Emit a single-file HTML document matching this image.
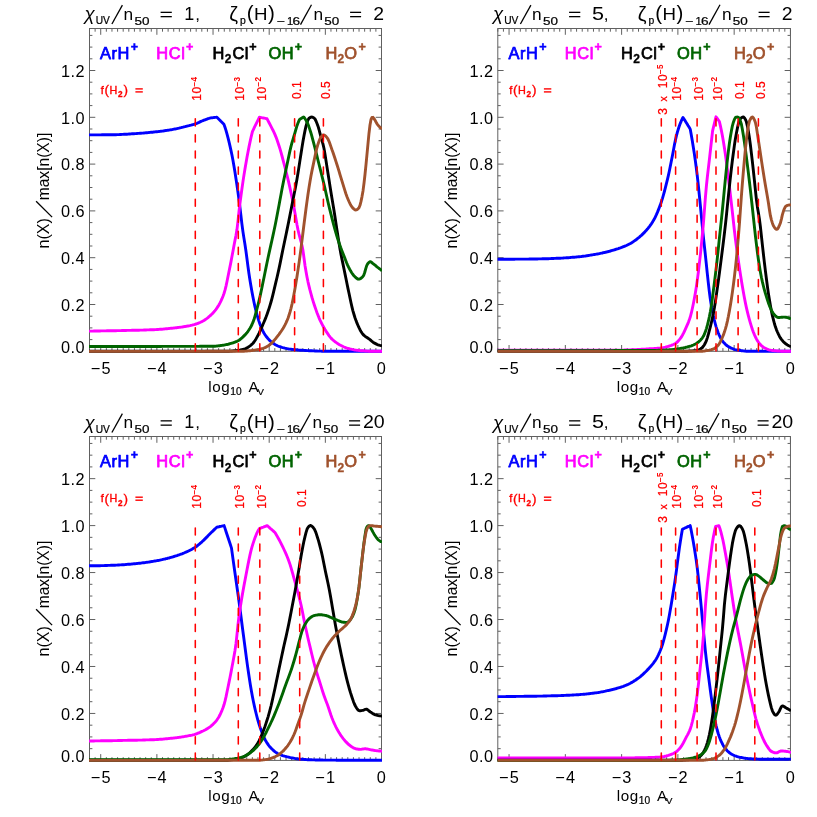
<!DOCTYPE html>
<html><head><meta charset="utf-8"><title>chart</title>
<style>html,body{margin:0;padding:0;background:#fff}svg{display:block;will-change:transform}text{font-family:"Liberation Sans", sans-serif;}</style></head><body>
<svg width="817" height="817" viewBox="0 0 817 817">
<rect width="817" height="817" fill="#fff"/>
<g id="panel1">
<g stroke="#000" stroke-width="1" fill="none" shape-rendering="auto" opacity="0.62">
<rect x="89.50" y="28.50" width="292.00" height="322.80"/>
<path d="M89.50 351.30v-3.20M89.50 28.50v3.20M95.12 351.30v-3.20M95.12 28.50v3.20M100.73 351.30v-6.30M100.73 28.50v6.30M106.35 351.30v-3.20M106.35 28.50v3.20M111.96 351.30v-3.20M111.96 28.50v3.20M117.58 351.30v-3.20M117.58 28.50v3.20M123.19 351.30v-3.20M123.19 28.50v3.20M128.81 351.30v-3.20M128.81 28.50v3.20M134.42 351.30v-3.20M134.42 28.50v3.20M140.04 351.30v-3.20M140.04 28.50v3.20M145.65 351.30v-3.20M145.65 28.50v3.20M151.27 351.30v-3.20M151.27 28.50v3.20M156.88 351.30v-6.30M156.88 28.50v6.30M162.50 351.30v-3.20M162.50 28.50v3.20M168.12 351.30v-3.20M168.12 28.50v3.20M173.73 351.30v-3.20M173.73 28.50v3.20M179.35 351.30v-3.20M179.35 28.50v3.20M184.96 351.30v-3.20M184.96 28.50v3.20M190.58 351.30v-3.20M190.58 28.50v3.20M196.19 351.30v-3.20M196.19 28.50v3.20M201.81 351.30v-3.20M201.81 28.50v3.20M207.42 351.30v-3.20M207.42 28.50v3.20M213.04 351.30v-6.30M213.04 28.50v6.30M218.65 351.30v-3.20M218.65 28.50v3.20M224.27 351.30v-3.20M224.27 28.50v3.20M229.88 351.30v-3.20M229.88 28.50v3.20M235.50 351.30v-3.20M235.50 28.50v3.20M241.12 351.30v-3.20M241.12 28.50v3.20M246.73 351.30v-3.20M246.73 28.50v3.20M252.35 351.30v-3.20M252.35 28.50v3.20M257.96 351.30v-3.20M257.96 28.50v3.20M263.58 351.30v-3.20M263.58 28.50v3.20M269.19 351.30v-6.30M269.19 28.50v6.30M274.81 351.30v-3.20M274.81 28.50v3.20M280.42 351.30v-3.20M280.42 28.50v3.20M286.04 351.30v-3.20M286.04 28.50v3.20M291.65 351.30v-3.20M291.65 28.50v3.20M297.27 351.30v-3.20M297.27 28.50v3.20M302.88 351.30v-3.20M302.88 28.50v3.20M308.50 351.30v-3.20M308.50 28.50v3.20M314.12 351.30v-3.20M314.12 28.50v3.20M319.73 351.30v-3.20M319.73 28.50v3.20M325.35 351.30v-6.30M325.35 28.50v6.30M330.96 351.30v-3.20M330.96 28.50v3.20M336.58 351.30v-3.20M336.58 28.50v3.20M342.19 351.30v-3.20M342.19 28.50v3.20M347.81 351.30v-3.20M347.81 28.50v3.20M353.42 351.30v-3.20M353.42 28.50v3.20M359.04 351.30v-3.20M359.04 28.50v3.20M364.65 351.30v-3.20M364.65 28.50v3.20M370.27 351.30v-3.20M370.27 28.50v3.20M375.88 351.30v-3.20M375.88 28.50v3.20M381.50 351.30v-6.30M381.50 28.50v6.30M89.50 351.30h5.80M381.50 351.30h-5.80M89.50 339.60h2.90M381.50 339.60h-2.90M89.50 327.90h2.90M381.50 327.90h-2.90M89.50 316.20h2.90M381.50 316.20h-2.90M89.50 304.50h5.80M381.50 304.50h-5.80M89.50 292.80h2.90M381.50 292.80h-2.90M89.50 281.10h2.90M381.50 281.10h-2.90M89.50 269.40h2.90M381.50 269.40h-2.90M89.50 257.70h5.80M381.50 257.70h-5.80M89.50 246.00h2.90M381.50 246.00h-2.90M89.50 234.30h2.90M381.50 234.30h-2.90M89.50 222.60h2.90M381.50 222.60h-2.90M89.50 210.90h5.80M381.50 210.90h-5.80M89.50 199.20h2.90M381.50 199.20h-2.90M89.50 187.50h2.90M381.50 187.50h-2.90M89.50 175.80h2.90M381.50 175.80h-2.90M89.50 164.10h5.80M381.50 164.10h-5.80M89.50 152.40h2.90M381.50 152.40h-2.90M89.50 140.70h2.90M381.50 140.70h-2.90M89.50 129.00h2.90M381.50 129.00h-2.90M89.50 117.30h5.80M381.50 117.30h-5.80M89.50 105.60h2.90M381.50 105.60h-2.90M89.50 93.90h2.90M381.50 93.90h-2.90M89.50 82.20h2.90M381.50 82.20h-2.90M89.50 70.50h5.80M381.50 70.50h-5.80M89.50 58.80h2.90M381.50 58.80h-2.90M89.50 47.10h2.90M381.50 47.10h-2.90M89.50 35.40h2.90M381.50 35.40h-2.90"/>
</g>
<clipPath id="clip1"><rect x="89.00" y="28.50" width="293.00" height="324.80"/></clipPath>
<g clip-path="url(#clip1)" fill="none" stroke-width="2.9" stroke-linejoin="round" stroke-linecap="butt">
<polyline stroke="#0000ff" points="89.0,134.9 90.0,134.9 91.0,134.9 92.0,134.9 93.0,134.9 94.0,134.9 95.0,134.9 96.0,134.9 97.0,134.9 98.0,134.9 99.0,134.9 100.0,134.9 101.0,134.9 102.0,134.8 103.0,134.8 104.0,134.8 105.0,134.8 106.0,134.8 107.0,134.8 108.0,134.8 109.0,134.8 110.0,134.8 111.0,134.7 112.0,134.7 113.0,134.7 114.0,134.7 115.0,134.7 116.0,134.7 117.0,134.6 118.0,134.6 119.0,134.6 120.0,134.5 121.0,134.5 122.0,134.4 123.0,134.4 124.0,134.3 125.0,134.3 126.0,134.2 127.0,134.2 128.0,134.1 129.0,134.0 130.0,134.0 131.0,133.9 132.0,133.8 133.0,133.8 134.0,133.7 135.0,133.6 136.0,133.6 137.0,133.5 138.0,133.4 139.0,133.4 140.0,133.3 141.0,133.2 142.0,133.1 143.0,133.1 144.0,133.0 145.0,132.9 146.0,132.8 147.0,132.7 148.0,132.6 149.0,132.5 150.0,132.4 151.0,132.3 152.0,132.3 153.0,132.2 154.0,132.0 155.0,131.9 156.0,131.8 157.0,131.7 158.0,131.6 159.0,131.5 160.0,131.4 161.0,131.2 162.0,131.1 163.0,131.0 164.0,130.8 165.0,130.7 166.0,130.5 167.0,130.4 168.0,130.2 169.0,130.1 170.0,129.9 171.0,129.8 172.0,129.6 173.0,129.4 174.0,129.2 175.0,129.0 176.0,128.8 177.0,128.6 178.0,128.4 179.0,128.2 180.0,127.9 181.0,127.7 182.0,127.4 183.0,127.2 184.0,126.9 185.0,126.7 186.0,126.4 187.0,126.1 188.0,125.9 189.0,125.7 190.0,125.4 191.0,125.2 192.0,124.9 193.0,124.6 194.0,124.3 195.0,124.0 196.0,123.7 197.0,123.3 198.0,122.8 199.0,122.4 200.0,121.9 201.0,121.4 202.0,121.0 203.0,120.6 204.0,120.2 205.0,119.8 206.0,119.5 207.0,119.1 208.0,118.7 209.0,118.4 210.0,118.0 210.1,118.0 211.1,117.9 212.1,117.8 213.1,117.6 214.1,117.5 215.1,117.4 216.1,117.3 216.9,117.2 217.9,118.2 218.9,119.2 219.9,120.2 220.9,121.3 221.9,122.3 222.9,123.3 223.9,124.3 224.9,127.0 225.9,130.1 226.9,133.6 227.9,137.3 228.9,141.3 229.9,145.6 230.9,150.1 231.9,154.8 232.9,160.0 233.9,165.7 234.9,171.8 235.9,178.2 236.9,184.9 237.9,191.8 238.9,199.0 239.9,206.9 240.9,215.5 241.9,223.9 242.9,231.4 243.9,237.9 244.9,244.1 245.9,250.7 246.9,258.2 247.9,266.0 248.9,273.2 249.9,279.7 250.9,285.8 251.9,291.5 252.9,296.8 253.9,301.7 254.9,306.4 255.9,310.6 256.9,314.4 257.9,317.9 258.9,321.1 259.9,324.0 260.9,326.6 261.9,328.9 262.9,331.0 263.9,333.0 264.9,334.6 265.9,336.0 266.9,337.3 267.9,338.5 268.9,339.6 269.9,340.6 270.9,341.5 271.9,342.3 272.9,343.0 273.9,343.7 274.9,344.4 275.9,345.0 276.9,345.5 277.9,346.0 278.9,346.4 279.9,346.7 280.9,347.0 281.9,347.4 282.9,347.7 283.9,347.9 284.9,348.2 285.9,348.4 286.9,348.6 287.9,348.8 288.9,349.0 289.9,349.1 290.9,349.2 291.9,349.4 292.9,349.5 293.9,349.6 294.9,349.7 295.9,349.8 296.9,349.9 297.9,350.0 298.9,350.1 299.9,350.2 300.9,350.2 301.9,350.3 302.9,350.4 303.9,350.4 304.9,350.5 305.9,350.5 306.9,350.6 307.9,350.6 308.9,350.7 309.9,350.7 310.9,350.8 311.9,350.8 312.9,350.9 313.9,350.9 314.9,351.0 315.9,351.0 316.9,351.0 317.9,351.1 318.9,351.1 319.9,351.1 320.9,351.1 321.9,351.2 322.9,351.2 323.9,351.2 324.9,351.2 325.9,351.2 326.9,351.2 327.9,351.2 328.9,351.2 329.9,351.2 330.9,351.2 331.9,351.2 332.9,351.2 333.9,351.2 334.9,351.2 335.9,351.2 336.9,351.2 337.9,351.2 338.9,351.2 339.9,351.2 340.9,351.3 341.9,351.3 342.9,351.3 343.9,351.3 344.9,351.3 345.9,351.3 346.9,351.3 347.9,351.3 348.9,351.3 349.9,351.3 350.9,351.3 351.9,351.3 352.9,351.3 353.9,351.3 354.9,351.3 355.9,351.3 356.9,351.3 357.9,351.3 358.9,351.3 359.9,351.3 360.9,351.3 361.9,351.3 362.9,351.3 363.9,351.3 364.9,351.3 365.9,351.3 366.9,351.3 367.9,351.3 368.9,351.3 369.9,351.3 370.9,351.3 371.9,351.3 372.9,351.3 373.9,351.3 374.9,351.3 375.9,351.3 376.9,351.3 377.9,351.3 378.9,351.3 379.9,351.3 380.9,351.3 381.9,351.3 382.0,351.3"/>
<polyline stroke="#ff00ff" points="89.0,331.1 90.0,331.1 91.0,331.1 92.0,331.1 93.0,331.1 94.0,331.0 95.0,331.0 96.0,331.0 97.0,331.0 98.0,331.0 99.0,331.0 100.0,331.0 101.0,330.9 102.0,330.9 103.0,330.9 104.0,330.9 105.0,330.9 106.0,330.9 107.0,330.8 108.0,330.8 109.0,330.8 110.0,330.8 111.0,330.8 112.0,330.7 113.0,330.7 114.0,330.7 115.0,330.7 116.0,330.7 117.0,330.6 118.0,330.6 119.0,330.6 120.0,330.6 121.0,330.6 122.0,330.5 123.0,330.5 124.0,330.5 125.0,330.5 126.0,330.5 127.0,330.4 128.0,330.4 129.0,330.4 130.0,330.4 131.0,330.4 132.0,330.3 133.0,330.3 134.0,330.3 135.0,330.3 136.0,330.2 137.0,330.2 138.0,330.2 139.0,330.2 140.0,330.1 141.0,330.1 142.0,330.1 143.0,330.1 144.0,330.0 145.0,330.0 146.0,330.0 147.0,329.9 148.0,329.9 149.0,329.9 150.0,329.8 151.0,329.8 152.0,329.8 153.0,329.7 154.0,329.7 155.0,329.6 156.0,329.6 157.0,329.5 158.0,329.5 159.0,329.4 160.0,329.3 161.0,329.2 162.0,329.2 163.0,329.1 164.0,329.0 165.0,328.9 166.0,328.8 167.0,328.7 168.0,328.6 169.0,328.5 170.0,328.4 171.0,328.3 172.0,328.2 173.0,328.1 174.0,328.0 175.0,327.9 176.0,327.8 177.0,327.7 178.0,327.5 179.0,327.4 180.0,327.3 181.0,327.1 182.0,327.0 183.0,326.8 184.0,326.7 185.0,326.5 186.0,326.3 187.0,326.2 188.0,326.0 189.0,325.8 190.0,325.6 191.0,325.3 192.0,325.1 193.0,324.8 194.0,324.6 195.0,324.3 196.0,324.0 197.0,323.7 198.0,323.3 199.0,322.9 200.0,322.5 201.0,322.0 202.0,321.6 203.0,321.0 204.0,320.5 205.0,319.8 206.0,319.1 207.0,318.4 208.0,317.6 209.0,316.7 210.0,315.9 211.0,314.9 212.0,314.0 213.0,312.9 214.0,311.8 215.0,310.6 216.0,309.3 217.0,307.9 218.0,306.4 219.0,304.7 220.0,302.9 221.0,300.9 222.0,298.7 223.0,296.2 224.0,293.5 225.0,290.2 226.0,286.1 227.0,281.5 228.0,276.5 229.0,271.5 230.0,266.6 231.0,261.6 232.0,256.3 233.0,250.9 234.0,245.5 235.0,240.3 236.0,235.3 237.0,229.3 238.0,220.9 239.0,211.4 240.0,203.1 241.0,195.5 242.0,188.3 243.0,181.4 244.0,174.9 245.0,168.7 246.0,162.9 247.0,157.3 248.0,152.0 249.0,146.9 250.0,142.1 251.0,137.5 252.0,133.3 252.5,131.3 253.5,129.3 254.5,127.2 255.5,125.2 256.5,123.1 257.5,121.1 258.5,119.0 259.4,117.2 260.4,117.4 261.4,117.6 262.4,117.8 263.4,118.0 264.4,118.2 265.4,118.4 266.4,118.7 267.1,118.8 268.1,120.8 269.1,122.7 270.1,124.7 271.1,126.6 272.1,128.6 273.1,130.5 274.0,132.3 275.0,134.6 276.0,137.1 277.0,139.8 278.0,142.7 279.0,145.7 280.0,148.9 281.0,152.4 282.0,156.0 283.0,159.8 284.0,163.7 285.0,167.5 286.0,171.4 287.0,175.3 288.0,179.4 289.0,183.7 290.0,188.1 291.0,192.7 292.0,197.5 293.0,202.4 294.0,207.6 295.0,213.2 296.0,219.0 297.0,224.8 298.0,229.9 299.0,234.2 300.0,237.9 301.0,241.5 302.0,245.6 303.0,250.6 304.0,258.0 305.0,265.5 306.0,271.5 307.0,276.9 308.0,281.8 309.0,286.1 310.0,290.2 311.0,293.9 312.0,297.5 313.0,300.8 314.0,304.0 315.0,307.0 316.0,309.9 317.0,312.7 318.0,315.3 319.0,317.8 320.0,320.1 321.0,322.2 322.0,324.2 323.0,326.1 324.0,327.8 325.0,329.5 326.0,331.1 327.0,332.6 328.0,334.1 329.0,335.6 330.0,336.9 331.0,338.1 332.0,339.1 333.0,340.0 334.0,340.9 335.0,341.7 336.0,342.4 337.0,343.1 338.0,343.8 339.0,344.4 340.0,345.0 341.0,345.5 342.0,346.0 343.0,346.5 344.0,347.0 345.0,347.4 346.0,347.8 347.0,348.2 348.0,348.4 349.0,348.7 350.0,349.0 351.0,349.2 352.0,349.4 353.0,349.6 354.0,349.8 355.0,350.0 356.0,350.1 357.0,350.3 358.0,350.4 359.0,350.5 360.0,350.6 361.0,350.7 362.0,350.7 363.0,350.8 364.0,350.9 365.0,351.0 366.0,351.0 367.0,351.1 368.0,351.1 369.0,351.2 370.0,351.2 371.0,351.2 372.0,351.2 373.0,351.2 374.0,351.2 375.0,351.3 376.0,351.3 377.0,351.3 378.0,351.3 379.0,351.3 380.0,351.3 381.0,351.3 382.0,351.3"/>
<polyline stroke="#000000" points="89.0,351.3 90.0,351.3 91.0,351.3 92.0,351.3 93.0,351.3 94.0,351.3 95.0,351.3 96.0,351.3 97.0,351.3 98.0,351.3 99.0,351.3 100.0,351.3 101.0,351.3 102.0,351.3 103.0,351.3 104.0,351.3 105.0,351.3 106.0,351.3 107.0,351.3 108.0,351.3 109.0,351.3 110.0,351.3 111.0,351.3 112.0,351.3 113.0,351.3 114.0,351.3 115.0,351.3 116.0,351.3 117.0,351.3 118.0,351.3 119.0,351.3 120.0,351.3 121.0,351.3 122.0,351.3 123.0,351.3 124.0,351.3 125.0,351.3 126.0,351.3 127.0,351.3 128.0,351.3 129.0,351.3 130.0,351.3 131.0,351.3 132.0,351.3 133.0,351.3 134.0,351.3 135.0,351.3 136.0,351.3 137.0,351.3 138.0,351.3 139.0,351.3 140.0,351.3 141.0,351.3 142.0,351.3 143.0,351.3 144.0,351.3 145.0,351.3 146.0,351.3 147.0,351.3 148.0,351.3 149.0,351.3 150.0,351.3 151.0,351.3 152.0,351.3 153.0,351.3 154.0,351.3 155.0,351.3 156.0,351.3 157.0,351.3 158.0,351.3 159.0,351.3 160.0,351.3 161.0,351.3 162.0,351.3 163.0,351.3 164.0,351.3 165.0,351.3 166.0,351.3 167.0,351.3 168.0,351.3 169.0,351.3 170.0,351.3 171.0,351.3 172.0,351.3 173.0,351.3 174.0,351.3 175.0,351.3 176.0,351.3 177.0,351.3 178.0,351.3 179.0,351.3 180.0,351.3 181.0,351.3 182.0,351.3 183.0,351.3 184.0,351.3 185.0,351.3 186.0,351.3 187.0,351.3 188.0,351.3 189.0,351.3 190.0,351.3 191.0,351.3 192.0,351.3 193.0,351.3 194.0,351.3 195.0,351.3 196.0,351.3 197.0,351.3 198.0,351.3 199.0,351.3 200.0,351.3 201.0,351.3 202.0,351.3 203.0,351.3 204.0,351.3 205.0,351.3 206.0,351.3 207.0,351.3 208.0,351.3 209.0,351.3 210.0,351.3 211.0,351.3 212.0,351.3 213.0,351.3 214.0,351.3 215.0,351.3 216.0,351.3 217.0,351.3 218.0,351.3 219.0,351.3 220.0,351.3 221.0,351.3 222.0,351.3 223.0,351.3 224.0,351.3 225.0,351.3 226.0,351.3 227.0,351.3 228.0,351.2 229.0,351.2 230.0,351.1 231.0,351.1 232.0,351.0 233.0,350.9 234.0,350.8 235.0,350.7 236.0,350.6 237.0,350.5 238.0,350.4 239.0,350.3 240.0,350.1 241.0,349.9 242.0,349.7 243.0,349.4 244.0,349.1 245.0,348.8 246.0,348.4 247.0,347.9 248.0,347.3 249.0,346.6 250.0,345.9 251.0,345.1 252.0,344.2 253.0,343.2 254.0,342.0 255.0,340.5 256.0,338.9 257.0,337.1 258.0,335.3 259.0,333.4 260.0,331.2 261.0,329.0 262.0,326.7 263.0,324.3 264.0,322.0 265.0,319.6 266.0,317.1 267.0,314.4 268.0,311.6 269.0,308.6 270.0,305.4 271.0,302.0 272.0,298.3 273.0,294.3 274.0,290.1 275.0,285.9 276.0,281.7 277.0,277.5 278.0,273.1 279.0,268.6 280.0,263.9 281.0,258.9 282.0,253.9 283.0,249.0 284.0,244.2 285.0,239.5 286.0,234.7 287.0,229.9 288.0,225.0 289.0,220.1 290.0,215.0 291.0,210.0 292.0,204.9 293.0,199.8 294.0,194.8 295.0,189.7 296.0,184.5 297.0,179.1 298.0,173.1 299.0,166.6 300.0,160.1 301.0,153.8 302.0,147.4 303.0,141.2 304.0,135.7 305.0,130.6 306.0,126.1 307.0,122.6 308.0,120.0 309.0,118.3 310.0,117.6 311.0,117.1 312.0,117.0 313.0,117.4 314.0,118.0 315.0,119.0 316.0,121.0 317.0,123.5 318.0,126.2 319.0,129.5 320.0,133.3 321.0,137.0 322.0,140.5 323.0,144.2 324.0,148.5 325.0,154.2 326.0,160.6 327.0,167.1 328.0,173.4 329.0,179.8 330.0,186.2 331.0,192.5 332.0,198.4 333.0,204.4 334.0,210.5 335.0,217.0 336.0,223.7 337.0,230.2 338.0,236.6 339.0,242.9 340.0,248.9 341.0,254.5 342.0,259.4 343.0,264.1 344.0,269.0 345.0,273.9 346.0,278.8 347.0,283.8 348.0,288.6 349.0,293.2 350.0,298.0 351.0,302.7 352.0,307.1 353.0,311.1 354.0,314.5 355.0,317.7 356.0,320.6 357.0,323.2 358.0,325.5 359.0,327.7 360.0,329.7 361.0,331.5 362.0,333.1 363.0,334.4 364.0,335.4 365.0,336.2 366.0,336.9 367.0,337.5 368.0,338.2 369.0,338.9 370.0,339.7 371.0,340.5 372.0,341.4 373.0,342.2 374.0,342.9 375.0,343.4 376.0,343.9 377.0,344.4 378.0,344.8 379.0,345.1 380.0,345.4 381.0,345.6 382.0,345.8"/>
<polyline stroke="#006400" points="89.0,346.5 90.0,346.5 91.0,346.5 92.0,346.5 93.0,346.5 94.0,346.5 95.0,346.5 96.0,346.5 97.0,346.5 98.0,346.5 99.0,346.5 100.0,346.5 101.0,346.5 102.0,346.5 103.0,346.5 104.0,346.5 105.0,346.5 106.0,346.5 107.0,346.5 108.0,346.5 109.0,346.5 110.0,346.5 111.0,346.5 112.0,346.5 113.0,346.5 114.0,346.5 115.0,346.5 116.0,346.5 117.0,346.5 118.0,346.5 119.0,346.5 120.0,346.5 121.0,346.5 122.0,346.5 123.0,346.5 124.0,346.5 125.0,346.5 126.0,346.5 127.0,346.5 128.0,346.5 129.0,346.5 130.0,346.5 131.0,346.5 132.0,346.5 133.0,346.5 134.0,346.5 135.0,346.5 136.0,346.5 137.0,346.5 138.0,346.5 139.0,346.5 140.0,346.5 141.0,346.5 142.0,346.5 143.0,346.5 144.0,346.5 145.0,346.5 146.0,346.5 147.0,346.5 148.0,346.5 149.0,346.5 150.0,346.5 151.0,346.5 152.0,346.5 153.0,346.5 154.0,346.5 155.0,346.5 156.0,346.5 157.0,346.5 158.0,346.5 159.0,346.5 160.0,346.5 161.0,346.5 162.0,346.4 163.0,346.4 164.0,346.4 165.0,346.4 166.0,346.4 167.0,346.4 168.0,346.4 169.0,346.4 170.0,346.4 171.0,346.4 172.0,346.4 173.0,346.4 174.0,346.4 175.0,346.4 176.0,346.4 177.0,346.4 178.0,346.4 179.0,346.4 180.0,346.4 181.0,346.4 182.0,346.4 183.0,346.4 184.0,346.4 185.0,346.4 186.0,346.4 187.0,346.4 188.0,346.4 189.0,346.4 190.0,346.4 191.0,346.4 192.0,346.4 193.0,346.4 194.0,346.4 195.0,346.4 196.0,346.4 197.0,346.4 198.0,346.4 199.0,346.4 200.0,346.3 201.0,346.3 202.0,346.3 203.0,346.3 204.0,346.3 205.0,346.3 206.0,346.3 207.0,346.3 208.0,346.3 209.0,346.3 210.0,346.3 211.0,346.3 212.0,346.3 213.0,346.3 214.0,346.3 215.0,346.2 216.0,346.1 217.0,346.0 218.0,345.9 219.0,345.8 220.0,345.7 221.0,345.5 222.0,345.4 223.0,345.2 224.0,345.1 225.0,344.9 226.0,344.7 227.0,344.5 228.0,344.3 229.0,344.0 230.0,343.7 231.0,343.4 232.0,343.1 233.0,342.8 234.0,342.5 235.0,342.1 236.0,341.7 237.0,341.3 238.0,340.8 239.0,340.2 240.0,339.5 241.0,338.7 242.0,337.8 243.0,336.9 244.0,335.9 245.0,334.9 246.0,333.8 247.0,332.6 248.0,331.3 249.0,329.8 250.0,328.2 251.0,326.5 252.0,324.5 253.0,322.2 254.0,319.6 255.0,316.2 256.0,312.5 257.0,308.7 258.0,304.9 259.0,300.9 260.0,296.6 261.0,292.0 262.0,287.2 263.0,282.3 264.0,277.5 265.0,272.5 266.0,267.6 267.0,262.7 268.0,258.0 269.0,253.4 270.0,248.9 271.0,244.4 272.0,240.0 273.0,235.4 274.0,230.8 275.0,226.0 276.0,221.0 277.0,215.8 278.0,210.5 279.0,205.2 280.0,199.8 281.0,194.4 282.0,189.1 283.0,184.0 284.0,179.0 285.0,174.2 286.0,169.4 287.0,164.7 288.0,160.0 289.0,155.3 290.0,150.6 291.0,146.4 292.0,142.7 293.0,139.3 294.0,136.0 295.0,132.6 296.0,129.0 297.0,125.7 298.0,123.0 299.0,120.6 299.6,119.4 300.6,118.8 301.6,118.2 302.6,117.6 303.6,117.1 303.7,117.0 304.7,118.2 305.7,119.7 306.7,121.5 307.7,123.5 308.7,126.1 309.7,129.1 310.7,132.2 311.7,135.7 312.7,139.4 313.7,143.1 314.7,147.0 315.7,150.9 316.7,154.9 317.7,159.0 318.7,163.0 319.7,167.0 320.7,170.9 321.7,174.9 322.7,179.0 323.7,183.1 324.7,187.4 325.7,191.8 326.7,196.3 327.7,200.7 328.7,205.0 329.7,209.1 330.7,213.2 331.7,217.2 332.7,221.1 333.7,224.9 334.7,228.5 335.7,232.1 336.7,235.5 337.7,238.8 338.7,241.9 339.7,244.8 340.7,247.6 341.7,250.2 342.7,252.8 343.7,255.3 344.7,257.8 345.7,260.4 346.7,263.0 347.7,265.3 348.7,267.4 349.7,269.3 350.7,271.1 351.7,272.7 352.7,274.2 353.7,275.5 354.7,276.5 355.7,277.5 356.7,278.3 357.7,279.0 358.7,279.2 359.7,279.0 360.7,278.5 361.7,277.7 362.7,276.7 363.7,275.4 364.7,272.5 365.7,268.9 366.7,265.6 367.7,263.8 368.7,262.6 369.7,261.8 370.7,261.8 371.7,262.4 372.7,263.3 373.7,264.1 374.7,264.9 375.7,265.7 376.7,266.6 377.7,267.4 378.7,268.1 379.7,268.9 380.7,269.7 381.7,270.5 382.0,270.7"/>
<polyline stroke="#a0522d" points="89.0,351.4 90.0,351.4 91.0,351.4 92.0,351.4 93.0,351.4 94.0,351.4 95.0,351.4 96.0,351.4 97.0,351.4 98.0,351.4 99.0,351.4 100.0,351.4 101.0,351.4 102.0,351.4 103.0,351.4 104.0,351.4 105.0,351.4 106.0,351.4 107.0,351.4 108.0,351.4 109.0,351.4 110.0,351.4 111.0,351.4 112.0,351.4 113.0,351.4 114.0,351.4 115.0,351.4 116.0,351.4 117.0,351.4 118.0,351.4 119.0,351.4 120.0,351.4 121.0,351.4 122.0,351.4 123.0,351.4 124.0,351.4 125.0,351.4 126.0,351.4 127.0,351.4 128.0,351.4 129.0,351.4 130.0,351.4 131.0,351.4 132.0,351.4 133.0,351.4 134.0,351.4 135.0,351.4 136.0,351.4 137.0,351.4 138.0,351.4 139.0,351.4 140.0,351.4 141.0,351.4 142.0,351.4 143.0,351.4 144.0,351.4 145.0,351.4 146.0,351.4 147.0,351.4 148.0,351.4 149.0,351.4 150.0,351.4 151.0,351.4 152.0,351.4 153.0,351.4 154.0,351.4 155.0,351.4 156.0,351.4 157.0,351.4 158.0,351.4 159.0,351.4 160.0,351.4 161.0,351.4 162.0,351.4 163.0,351.4 164.0,351.4 165.0,351.4 166.0,351.4 167.0,351.4 168.0,351.4 169.0,351.4 170.0,351.4 171.0,351.4 172.0,351.4 173.0,351.4 174.0,351.4 175.0,351.4 176.0,351.4 177.0,351.4 178.0,351.4 179.0,351.4 180.0,351.4 181.0,351.4 182.0,351.4 183.0,351.4 184.0,351.4 185.0,351.4 186.0,351.4 187.0,351.4 188.0,351.4 189.0,351.4 190.0,351.4 191.0,351.4 192.0,351.4 193.0,351.4 194.0,351.4 195.0,351.4 196.0,351.4 197.0,351.4 198.0,351.4 199.0,351.4 200.0,351.4 201.0,351.4 202.0,351.4 203.0,351.4 204.0,351.4 205.0,351.4 206.0,351.3 207.0,351.3 208.0,351.3 209.0,351.3 210.0,351.3 211.0,351.3 212.0,351.3 213.0,351.3 214.0,351.3 215.0,351.3 216.0,351.3 217.0,351.3 218.0,351.3 219.0,351.3 220.0,351.3 221.0,351.3 222.0,351.3 223.0,351.3 224.0,351.3 225.0,351.3 226.0,351.3 227.0,351.3 228.0,351.3 229.0,351.3 230.0,351.3 231.0,351.3 232.0,351.3 233.0,351.3 234.0,351.3 235.0,351.3 236.0,351.3 237.0,351.3 238.0,351.3 239.0,351.3 240.0,351.3 241.0,351.3 242.0,351.3 243.0,351.2 244.0,351.2 245.0,351.1 246.0,351.1 247.0,351.0 248.0,350.9 249.0,350.8 250.0,350.7 251.0,350.6 252.0,350.5 253.0,350.4 254.0,350.2 255.0,350.1 256.0,349.9 257.0,349.8 258.0,349.6 259.0,349.5 260.0,349.3 261.0,349.0 262.0,348.7 263.0,348.4 264.0,348.0 265.0,347.6 266.0,347.2 267.0,346.6 268.0,346.0 269.0,345.3 270.0,344.5 271.0,343.7 272.0,342.8 273.0,341.7 274.0,340.6 275.0,339.4 276.0,338.2 277.0,336.9 278.0,335.6 279.0,334.3 280.0,332.9 281.0,331.5 282.0,330.0 283.0,328.4 284.0,326.7 285.0,324.9 286.0,322.9 287.0,320.7 288.0,318.2 289.0,315.3 290.0,312.0 291.0,308.3 292.0,304.1 293.0,299.2 294.0,293.9 295.0,288.4 296.0,282.5 297.0,276.4 298.0,269.9 299.0,263.1 300.0,255.9 301.0,248.4 302.0,240.4 303.0,232.3 304.0,224.3 305.0,216.5 306.0,208.8 307.0,201.4 308.0,194.2 309.0,187.6 310.0,181.4 311.0,175.7 312.0,170.6 313.0,165.9 314.0,161.1 315.0,156.2 316.0,151.6 317.0,147.5 318.0,144.2 319.0,141.3 320.0,138.8 321.0,137.2 322.0,135.8 323.0,134.9 324.0,134.9 325.0,135.5 326.0,136.4 327.0,137.6 328.0,139.1 329.0,141.3 330.0,144.0 331.0,146.9 332.0,149.8 333.0,152.5 334.0,155.5 335.0,158.5 336.0,161.6 337.0,164.7 338.0,167.9 339.0,171.2 340.0,174.6 341.0,177.9 342.0,181.2 343.0,184.4 344.0,187.6 345.0,190.9 346.0,194.0 347.0,196.8 348.0,199.2 349.0,201.5 350.0,203.6 351.0,205.5 352.0,207.1 353.0,208.2 354.0,209.1 355.0,209.8 356.0,210.0 357.0,209.6 358.0,208.8 359.0,207.7 360.0,205.3 361.0,201.4 362.0,196.6 363.0,190.9 364.0,183.2 365.0,174.5 366.0,164.7 367.0,154.1 368.0,143.7 369.0,133.2 370.0,125.0 371.0,119.5 372.0,117.5 373.0,117.3 374.0,118.6 375.0,120.1 376.0,122.0 377.0,123.8 378.0,125.1 379.0,126.3 380.0,127.3 381.0,128.2 382.0,128.8"/>
</g>
<line x1="195.30" y1="350.90" x2="195.30" y2="118.00" stroke="#ff0000" stroke-width="1.55" stroke-linecap="round" stroke-dasharray="7.1 8.97"/>
<line x1="238.30" y1="350.90" x2="238.30" y2="118.00" stroke="#ff0000" stroke-width="1.55" stroke-linecap="round" stroke-dasharray="7.1 8.97"/>
<line x1="259.80" y1="350.90" x2="259.80" y2="118.00" stroke="#ff0000" stroke-width="1.55" stroke-linecap="round" stroke-dasharray="7.1 8.97"/>
<line x1="294.60" y1="350.90" x2="294.60" y2="118.00" stroke="#ff0000" stroke-width="1.55" stroke-linecap="round" stroke-dasharray="7.1 8.97"/>
<line x1="323.40" y1="350.90" x2="323.40" y2="118.00" stroke="#ff0000" stroke-width="1.55" stroke-linecap="round" stroke-dasharray="7.1 8.97"/>
<g transform="translate(201.10 100.80) rotate(-90)"><text x="0.00" y="0.00" font-size="12.00" fill="#ff0000" font-weight="normal" text-anchor="start" letter-spacing="0.60" stroke="#ff0000" stroke-width="0.25">10</text><text x="14.20" y="-4.60" font-size="8.20" fill="#ff0000" font-weight="bold" text-anchor="start" letter-spacing="0.30">−4</text></g>
<g transform="translate(244.10 100.80) rotate(-90)"><text x="0.00" y="0.00" font-size="12.00" fill="#ff0000" font-weight="normal" text-anchor="start" letter-spacing="0.60" stroke="#ff0000" stroke-width="0.25">10</text><text x="14.20" y="-4.60" font-size="8.20" fill="#ff0000" font-weight="bold" text-anchor="start" letter-spacing="0.30">−3</text></g>
<g transform="translate(265.60 100.80) rotate(-90)"><text x="0.00" y="0.00" font-size="12.00" fill="#ff0000" font-weight="normal" text-anchor="start" letter-spacing="0.60" stroke="#ff0000" stroke-width="0.25">10</text><text x="14.20" y="-4.60" font-size="8.20" fill="#ff0000" font-weight="bold" text-anchor="start" letter-spacing="0.30">−2</text></g>
<g transform="translate(300.90 98.90) rotate(-90)"><text x="0.00" y="0.00" font-size="12.00" fill="#ff0000" font-weight="normal" text-anchor="start" letter-spacing="0.50" stroke="#ff0000" stroke-width="0.25">0.1</text></g>
<g transform="translate(329.70 98.90) rotate(-90)"><text x="0.00" y="0.00" font-size="12.00" fill="#ff0000" font-weight="normal" text-anchor="start" letter-spacing="0.50" stroke="#ff0000" stroke-width="0.25">0.5</text></g>
<text x="100.70" y="93.70" font-size="11.00" fill="#ff0000" font-weight="normal" text-anchor="start" stroke="#ff0000" stroke-width="0.35">f</text>
<text x="104.60" y="94.20" font-size="13.50" fill="#ff0000" font-weight="normal" text-anchor="start" stroke="#ff0000" stroke-width="0.35">(</text>
<text x="109.50" y="93.70" font-size="10.80" fill="#ff0000" font-weight="normal" text-anchor="start" stroke="#ff0000" stroke-width="0.35">H</text>
<text x="118.00" y="97.40" font-size="8.20" fill="#ff0000" font-weight="bold" text-anchor="start" stroke="#ff0000" stroke-width="0.3">2</text>
<text x="123.50" y="94.20" font-size="13.50" fill="#ff0000" font-weight="normal" text-anchor="start" stroke="#ff0000" stroke-width="0.35">)</text>
<line x1="135.40" y1="88.90" x2="142.80" y2="88.90" stroke="#ff0000" stroke-width="1.40"/>
<line x1="135.40" y1="91.90" x2="142.80" y2="91.90" stroke="#ff0000" stroke-width="1.40"/>
<text x="100.10" y="58.50" font-size="16.40" fill="#0000ff" font-weight="normal" text-anchor="start" letter-spacing="0.50" stroke="#0000ff" stroke-width="0.75" stroke-linejoin="round">ArH</text>
<text x="130.80" y="50.90" font-size="12.50" fill="#0000ff" font-weight="bold" text-anchor="start" stroke="#0000ff" stroke-width="0.5">+</text>
<text x="156.30" y="58.50" font-size="16.40" fill="#ff00ff" font-weight="normal" text-anchor="start" letter-spacing="0.70" stroke="#ff00ff" stroke-width="0.75" stroke-linejoin="round">HCl</text>
<text x="185.90" y="50.90" font-size="12.50" fill="#ff00ff" font-weight="bold" text-anchor="start" stroke="#ff00ff" stroke-width="0.5">+</text>
<text x="212.50" y="58.50" font-size="16.40" fill="#000" font-weight="normal" text-anchor="start" letter-spacing="0.50" stroke="#000" stroke-width="0.75" stroke-linejoin="round">H</text>
<text x="224.70" y="63.40" font-size="12.00" fill="#000" font-weight="bold" text-anchor="start" stroke="#000" stroke-width="0.3">2</text>
<text x="232.60" y="58.50" font-size="16.40" fill="#000" font-weight="normal" text-anchor="start" letter-spacing="0.20" stroke="#000" stroke-width="0.75" stroke-linejoin="round">Cl</text>
<text x="249.30" y="50.90" font-size="12.50" fill="#000" font-weight="bold" text-anchor="start" stroke="#000" stroke-width="0.5">+</text>
<text x="268.60" y="58.50" font-size="16.40" fill="#006400" font-weight="normal" text-anchor="start" letter-spacing="0.30" stroke="#006400" stroke-width="0.75" stroke-linejoin="round">OH</text>
<text x="294.70" y="50.90" font-size="12.50" fill="#006400" font-weight="bold" text-anchor="start" stroke="#006400" stroke-width="0.5">+</text>
<text x="325.50" y="58.50" font-size="16.40" fill="#a0522d" font-weight="normal" text-anchor="start" letter-spacing="0.50" stroke="#a0522d" stroke-width="0.75" stroke-linejoin="round">H</text>
<text x="337.50" y="63.40" font-size="12.00" fill="#a0522d" font-weight="bold" text-anchor="start" stroke="#a0522d" stroke-width="0.3">2</text>
<text x="344.30" y="58.50" font-size="16.40" fill="#a0522d" font-weight="normal" text-anchor="start" letter-spacing="0.50" stroke="#a0522d" stroke-width="0.75" stroke-linejoin="round">O</text>
<text x="358.60" y="50.90" font-size="12.50" fill="#a0522d" font-weight="bold" text-anchor="start" stroke="#a0522d" stroke-width="0.5">+</text>
<text x="84.60" y="20.40" font-size="18.80" fill="#000" font-weight="normal" text-anchor="start" font-style="italic">χ</text>
<text x="95.70" y="24.00" font-size="10.20" fill="#000" font-weight="normal" text-anchor="start" stroke="#000" stroke-width="0.22">UV</text>
<line x1="111.90" y1="24.00" x2="122.40" y2="5.10" stroke="#000" stroke-width="1.30"/>
<text x="123.60" y="19.65" font-size="17.30" fill="#000" font-weight="normal" text-anchor="start">n</text>
<text x="134.50" y="24.60" font-size="11.20" fill="#000" font-weight="normal" text-anchor="start" textLength="15.0" lengthAdjust="spacingAndGlyphs" stroke="#000" stroke-width="0.22">50</text>
<line x1="160.60" y1="12.35" x2="171.80" y2="12.35" stroke="#000" stroke-width="1.30"/>
<line x1="160.60" y1="16.65" x2="171.80" y2="16.65" stroke="#000" stroke-width="1.30"/>
<text x="184.20" y="19.65" font-size="18.00" fill="#000" font-weight="normal" text-anchor="start">1</text>
<text x="195.30" y="19.65" font-size="17.00" fill="#000" font-weight="normal" text-anchor="start">,</text>
<text x="229.20" y="20.65" font-size="19.80" fill="#000" font-weight="normal" text-anchor="start">ζ</text>
<text x="240.00" y="23.60" font-size="10.40" fill="#000" font-weight="normal" text-anchor="start" stroke="#000" stroke-width="0.22">p</text>
<text x="246.70" y="20.25" font-size="20.50" fill="#000" font-weight="normal" text-anchor="start">(</text>
<text x="253.90" y="19.65" font-size="17.00" fill="#000" font-weight="normal" text-anchor="start" textLength="13.5" lengthAdjust="spacingAndGlyphs">H</text>
<text x="268.10" y="20.25" font-size="20.50" fill="#000" font-weight="normal" text-anchor="start">)</text>
<text x="276.80" y="24.50" font-size="11.20" fill="#000" font-weight="normal" text-anchor="start" textLength="8.2" lengthAdjust="spacingAndGlyphs" stroke="#000" stroke-width="0.22">−</text>
<text x="286.90" y="24.50" font-size="11.20" fill="#000" font-weight="normal" text-anchor="start" stroke="#000" stroke-width="0.22">1</text>
<text x="292.60" y="24.50" font-size="11.20" fill="#000" font-weight="normal" text-anchor="start" textLength="7.6" lengthAdjust="spacingAndGlyphs" stroke="#000" stroke-width="0.22">6</text>
<line x1="300.50" y1="24.60" x2="311.50" y2="4.70" stroke="#000" stroke-width="1.30"/>
<text x="313.40" y="19.65" font-size="17.30" fill="#000" font-weight="normal" text-anchor="start">n</text>
<text x="324.20" y="24.60" font-size="11.20" fill="#000" font-weight="normal" text-anchor="start" textLength="15.0" lengthAdjust="spacingAndGlyphs" stroke="#000" stroke-width="0.22">50</text>
<line x1="350.10" y1="12.35" x2="361.10" y2="12.35" stroke="#000" stroke-width="1.30"/>
<line x1="350.10" y1="16.65" x2="361.10" y2="16.65" stroke="#000" stroke-width="1.30"/>
<text x="373.20" y="19.65" font-size="18.00" fill="#000" font-weight="normal" text-anchor="start" textLength="10.8" lengthAdjust="spacingAndGlyphs">2</text>
<text x="101.23" y="373.60" font-size="16.30" fill="#000" font-weight="normal" text-anchor="middle" letter-spacing="1.20">−5</text>
<text x="157.38" y="373.60" font-size="16.30" fill="#000" font-weight="normal" text-anchor="middle" letter-spacing="1.20">−4</text>
<text x="213.54" y="373.60" font-size="16.30" fill="#000" font-weight="normal" text-anchor="middle" letter-spacing="1.20">−3</text>
<text x="269.69" y="373.60" font-size="16.30" fill="#000" font-weight="normal" text-anchor="middle" letter-spacing="1.20">−2</text>
<text x="325.85" y="373.60" font-size="16.30" fill="#000" font-weight="normal" text-anchor="middle" letter-spacing="1.20">−1</text>
<text x="382.00" y="373.60" font-size="16.30" fill="#000" font-weight="normal" text-anchor="middle" letter-spacing="1.20">0</text>
<text x="85.10" y="352.80" font-size="16.30" fill="#000" font-weight="normal" text-anchor="end" letter-spacing="0.45">0.0</text>
<text x="85.10" y="310.70" font-size="16.30" fill="#000" font-weight="normal" text-anchor="end" letter-spacing="0.45">0.2</text>
<text x="85.10" y="263.90" font-size="16.30" fill="#000" font-weight="normal" text-anchor="end" letter-spacing="0.45">0.4</text>
<text x="85.10" y="217.10" font-size="16.30" fill="#000" font-weight="normal" text-anchor="end" letter-spacing="0.45">0.6</text>
<text x="85.10" y="170.30" font-size="16.30" fill="#000" font-weight="normal" text-anchor="end" letter-spacing="0.45">0.8</text>
<text x="85.10" y="123.50" font-size="16.30" fill="#000" font-weight="normal" text-anchor="end" letter-spacing="0.45">1.0</text>
<text x="85.10" y="76.70" font-size="16.30" fill="#000" font-weight="normal" text-anchor="end" letter-spacing="0.45">1.2</text>
<text x="208.20" y="392.00" font-size="15.20" fill="#000" font-weight="normal" text-anchor="start" letter-spacing="0.60">log</text>
<text x="230.30" y="395.20" font-size="10.20" fill="#000" font-weight="normal" text-anchor="start" stroke="#000" stroke-width="0.22">10</text>
<text x="248.40" y="392.00" font-size="15.20" fill="#000" font-weight="normal" text-anchor="start">A</text>
<text x="257.40" y="395.20" font-size="9.60" fill="#000" font-weight="normal" text-anchor="start" stroke="#000" stroke-width="0.22">V</text>
<g transform="translate(48.90 248.50) rotate(-90)"><text x="0.00" y="0.00" font-size="16.60" fill="#000" font-weight="normal" text-anchor="start" textLength="30.3" lengthAdjust="spacingAndGlyphs">n(X)</text><line x1="31.40" y1="3.20" x2="47.20" y2="-12.80" stroke="#000" stroke-width="1.30"/><text x="48.20" y="0.00" font-size="16.60" fill="#000" font-weight="normal" text-anchor="start" textLength="67.6" lengthAdjust="spacingAndGlyphs">max[n(X)]</text></g>
</g>
<g id="panel2">
<g stroke="#000" stroke-width="1" fill="none" shape-rendering="auto" opacity="0.62">
<rect x="497.80" y="28.50" width="292.65" height="322.80"/>
<path d="M497.80 351.30v-3.20M497.80 28.50v3.20M503.43 351.30v-3.20M503.43 28.50v3.20M509.06 351.30v-6.30M509.06 28.50v6.30M514.68 351.30v-3.20M514.68 28.50v3.20M520.31 351.30v-3.20M520.31 28.50v3.20M525.94 351.30v-3.20M525.94 28.50v3.20M531.57 351.30v-3.20M531.57 28.50v3.20M537.20 351.30v-3.20M537.20 28.50v3.20M542.82 351.30v-3.20M542.82 28.50v3.20M548.45 351.30v-3.20M548.45 28.50v3.20M554.08 351.30v-3.20M554.08 28.50v3.20M559.71 351.30v-3.20M559.71 28.50v3.20M565.33 351.30v-6.30M565.33 28.50v6.30M570.96 351.30v-3.20M570.96 28.50v3.20M576.59 351.30v-3.20M576.59 28.50v3.20M582.22 351.30v-3.20M582.22 28.50v3.20M587.85 351.30v-3.20M587.85 28.50v3.20M593.47 351.30v-3.20M593.47 28.50v3.20M599.10 351.30v-3.20M599.10 28.50v3.20M604.73 351.30v-3.20M604.73 28.50v3.20M610.36 351.30v-3.20M610.36 28.50v3.20M615.99 351.30v-3.20M615.99 28.50v3.20M621.61 351.30v-6.30M621.61 28.50v6.30M627.24 351.30v-3.20M627.24 28.50v3.20M632.87 351.30v-3.20M632.87 28.50v3.20M638.50 351.30v-3.20M638.50 28.50v3.20M644.12 351.30v-3.20M644.12 28.50v3.20M649.75 351.30v-3.20M649.75 28.50v3.20M655.38 351.30v-3.20M655.38 28.50v3.20M661.01 351.30v-3.20M661.01 28.50v3.20M666.64 351.30v-3.20M666.64 28.50v3.20M672.26 351.30v-3.20M672.26 28.50v3.20M677.89 351.30v-6.30M677.89 28.50v6.30M683.52 351.30v-3.20M683.52 28.50v3.20M689.15 351.30v-3.20M689.15 28.50v3.20M694.78 351.30v-3.20M694.78 28.50v3.20M700.40 351.30v-3.20M700.40 28.50v3.20M706.03 351.30v-3.20M706.03 28.50v3.20M711.66 351.30v-3.20M711.66 28.50v3.20M717.29 351.30v-3.20M717.29 28.50v3.20M722.92 351.30v-3.20M722.92 28.50v3.20M728.54 351.30v-3.20M728.54 28.50v3.20M734.17 351.30v-6.30M734.17 28.50v6.30M739.80 351.30v-3.20M739.80 28.50v3.20M745.43 351.30v-3.20M745.43 28.50v3.20M751.05 351.30v-3.20M751.05 28.50v3.20M756.68 351.30v-3.20M756.68 28.50v3.20M762.31 351.30v-3.20M762.31 28.50v3.20M767.94 351.30v-3.20M767.94 28.50v3.20M773.57 351.30v-3.20M773.57 28.50v3.20M779.19 351.30v-3.20M779.19 28.50v3.20M784.82 351.30v-3.20M784.82 28.50v3.20M790.45 351.30v-6.30M790.45 28.50v6.30M497.80 351.30h5.80M790.45 351.30h-5.80M497.80 339.60h2.90M790.45 339.60h-2.90M497.80 327.90h2.90M790.45 327.90h-2.90M497.80 316.20h2.90M790.45 316.20h-2.90M497.80 304.50h5.80M790.45 304.50h-5.80M497.80 292.80h2.90M790.45 292.80h-2.90M497.80 281.10h2.90M790.45 281.10h-2.90M497.80 269.40h2.90M790.45 269.40h-2.90M497.80 257.70h5.80M790.45 257.70h-5.80M497.80 246.00h2.90M790.45 246.00h-2.90M497.80 234.30h2.90M790.45 234.30h-2.90M497.80 222.60h2.90M790.45 222.60h-2.90M497.80 210.90h5.80M790.45 210.90h-5.80M497.80 199.20h2.90M790.45 199.20h-2.90M497.80 187.50h2.90M790.45 187.50h-2.90M497.80 175.80h2.90M790.45 175.80h-2.90M497.80 164.10h5.80M790.45 164.10h-5.80M497.80 152.40h2.90M790.45 152.40h-2.90M497.80 140.70h2.90M790.45 140.70h-2.90M497.80 129.00h2.90M790.45 129.00h-2.90M497.80 117.30h5.80M790.45 117.30h-5.80M497.80 105.60h2.90M790.45 105.60h-2.90M497.80 93.90h2.90M790.45 93.90h-2.90M497.80 82.20h2.90M790.45 82.20h-2.90M497.80 70.50h5.80M790.45 70.50h-5.80M497.80 58.80h2.90M790.45 58.80h-2.90M497.80 47.10h2.90M790.45 47.10h-2.90M497.80 35.40h2.90M790.45 35.40h-2.90"/>
</g>
<clipPath id="clip2"><rect x="497.30" y="28.50" width="293.65" height="324.80"/></clipPath>
<g clip-path="url(#clip2)" fill="none" stroke-width="2.9" stroke-linejoin="round" stroke-linecap="butt">
<polyline stroke="#0000ff" points="497.4,259.2 498.4,259.2 499.4,259.2 500.4,259.2 501.4,259.2 502.4,259.2 503.4,259.2 504.4,259.2 505.4,259.2 506.4,259.2 507.4,259.2 508.4,259.2 509.4,259.2 510.4,259.2 511.4,259.2 512.4,259.2 513.4,259.2 514.4,259.2 515.4,259.1 516.4,259.1 517.4,259.1 518.4,259.1 519.4,259.1 520.4,259.1 521.4,259.1 522.4,259.1 523.4,259.1 524.4,259.1 525.4,259.1 526.4,259.1 527.4,259.1 528.4,259.1 529.4,259.0 530.4,259.0 531.4,259.0 532.4,259.0 533.4,259.0 534.4,259.0 535.4,259.0 536.4,259.0 537.4,259.0 538.4,258.9 539.4,258.9 540.4,258.9 541.4,258.9 542.4,258.8 543.4,258.8 544.4,258.8 545.4,258.8 546.4,258.7 547.4,258.7 548.4,258.7 549.4,258.6 550.4,258.6 551.4,258.5 552.4,258.5 553.4,258.5 554.4,258.4 555.4,258.4 556.4,258.3 557.4,258.3 558.4,258.3 559.4,258.2 560.4,258.2 561.4,258.1 562.4,258.1 563.4,258.0 564.4,257.9 565.4,257.9 566.4,257.8 567.4,257.7 568.4,257.7 569.4,257.6 570.4,257.5 571.4,257.4 572.4,257.3 573.4,257.3 574.4,257.2 575.4,257.1 576.4,257.0 577.4,256.9 578.4,256.8 579.4,256.7 580.4,256.6 581.4,256.5 582.4,256.3 583.4,256.2 584.4,256.1 585.4,256.0 586.4,255.8 587.4,255.7 588.4,255.5 589.4,255.4 590.4,255.2 591.4,255.0 592.4,254.9 593.4,254.7 594.4,254.5 595.4,254.4 596.4,254.2 597.4,254.0 598.4,253.8 599.4,253.6 600.4,253.4 601.4,253.2 602.4,253.0 603.4,252.7 604.4,252.5 605.4,252.3 606.4,252.0 607.4,251.8 608.4,251.5 609.4,251.3 610.4,251.0 611.4,250.7 612.4,250.4 613.4,250.1 614.4,249.8 615.4,249.5 616.4,249.2 617.4,248.9 618.4,248.6 619.4,248.2 620.4,247.9 621.4,247.5 622.4,247.1 623.4,246.7 624.4,246.3 625.4,245.9 626.4,245.5 627.4,245.0 628.4,244.5 629.4,244.0 630.4,243.5 631.4,242.9 632.4,242.3 633.4,241.6 634.4,240.9 635.4,240.2 636.4,239.5 637.4,238.7 638.4,237.9 639.4,237.1 640.4,236.2 641.4,235.4 642.4,234.4 643.4,233.4 644.4,232.4 645.4,231.3 646.4,230.2 647.4,229.1 648.4,227.8 649.4,226.6 650.4,225.2 651.4,223.8 652.4,222.2 653.4,220.6 654.4,218.8 655.4,216.8 656.4,214.7 657.4,212.4 658.4,209.9 659.4,207.3 660.4,204.6 661.4,201.7 662.4,198.6 663.4,195.2 664.4,191.5 665.4,187.7 666.4,183.7 667.4,179.6 668.4,175.3 669.4,170.7 670.4,165.8 671.4,160.8 672.4,155.8 673.4,150.6 674.4,145.1 675.4,140.1 676.4,135.9 677.4,132.2 678.4,128.8 679.4,125.8 680.4,123.1 681.4,120.7 682.4,118.5 683.0,117.4 684.0,119.0 685.0,120.6 686.0,122.2 687.0,123.8 688.0,125.5 689.0,127.1 690.0,128.7 690.2,129.0 691.2,134.4 692.2,140.2 693.2,146.4 694.2,152.9 695.2,159.8 696.2,167.2 697.2,175.2 698.2,184.2 699.2,193.9 700.2,203.8 701.2,214.3 702.2,225.0 703.2,235.1 704.2,244.5 705.2,253.5 706.2,262.9 707.2,272.7 708.2,281.8 709.2,290.5 710.2,298.4 711.2,304.9 712.2,310.4 713.2,315.3 714.2,319.6 715.2,323.5 716.2,327.1 717.2,330.1 718.2,332.7 719.2,335.1 720.2,337.2 721.2,339.0 722.2,340.6 723.2,341.9 724.2,343.0 725.2,344.1 726.2,345.0 727.2,345.8 728.2,346.4 729.2,347.0 730.2,347.6 731.2,348.1 732.2,348.5 733.2,348.9 734.2,349.3 735.2,349.6 736.2,349.8 737.2,350.0 738.2,350.2 739.2,350.3 740.2,350.5 741.2,350.7 742.2,350.8 743.2,350.9 744.2,351.0 745.2,351.1 746.2,351.2 747.2,351.2 748.2,351.2 749.2,351.2 750.2,351.2 751.2,351.2 752.2,351.2 753.2,351.2 754.2,351.2 755.2,351.2 756.2,351.2 757.2,351.2 758.2,351.2 759.2,351.3 760.2,351.3 761.2,351.3 762.2,351.3 763.2,351.3 764.2,351.3 765.2,351.3 766.2,351.3 767.2,351.3 768.2,351.3 769.2,351.3 770.2,351.3 771.2,351.3 772.2,351.3 773.2,351.3 774.2,351.3 775.2,351.3 776.2,351.3 777.2,351.3 778.2,351.3 779.2,351.3 780.2,351.3 781.2,351.3 782.2,351.3 783.2,351.3 784.2,351.3 785.2,351.3 786.2,351.3 787.2,351.3 788.2,351.3 789.2,351.3 790.2,351.3 791.0,351.3"/>
<polyline stroke="#ff00ff" points="497.4,350.2 498.4,350.2 499.4,350.2 500.4,350.2 501.4,350.2 502.4,350.2 503.4,350.2 504.4,350.2 505.4,350.2 506.4,350.2 507.4,350.2 508.4,350.2 509.4,350.2 510.4,350.2 511.4,350.2 512.4,350.2 513.4,350.2 514.4,350.2 515.4,350.2 516.4,350.2 517.4,350.2 518.4,350.2 519.4,350.2 520.4,350.2 521.4,350.2 522.4,350.2 523.4,350.2 524.4,350.2 525.4,350.2 526.4,350.2 527.4,350.2 528.4,350.2 529.4,350.2 530.4,350.2 531.4,350.2 532.4,350.2 533.4,350.2 534.4,350.2 535.4,350.2 536.4,350.2 537.4,350.2 538.4,350.2 539.4,350.2 540.4,350.2 541.4,350.2 542.4,350.2 543.4,350.2 544.4,350.2 545.4,350.2 546.4,350.2 547.4,350.2 548.4,350.2 549.4,350.2 550.4,350.2 551.4,350.2 552.4,350.2 553.4,350.2 554.4,350.2 555.4,350.2 556.4,350.2 557.4,350.2 558.4,350.2 559.4,350.2 560.4,350.2 561.4,350.2 562.4,350.2 563.4,350.2 564.4,350.2 565.4,350.2 566.4,350.2 567.4,350.2 568.4,350.2 569.4,350.2 570.4,350.2 571.4,350.2 572.4,350.2 573.4,350.2 574.4,350.2 575.4,350.2 576.4,350.2 577.4,350.2 578.4,350.2 579.4,350.2 580.4,350.2 581.4,350.2 582.4,350.2 583.4,350.2 584.4,350.2 585.4,350.2 586.4,350.2 587.4,350.2 588.4,350.2 589.4,350.1 590.4,350.1 591.4,350.1 592.4,350.1 593.4,350.1 594.4,350.1 595.4,350.1 596.4,350.1 597.4,350.1 598.4,350.1 599.4,350.1 600.4,350.1 601.4,350.1 602.4,350.1 603.4,350.1 604.4,350.1 605.4,350.1 606.4,350.1 607.4,350.1 608.4,350.1 609.4,350.1 610.4,350.1 611.4,350.1 612.4,350.1 613.4,350.1 614.4,350.1 615.4,350.1 616.4,350.1 617.4,350.1 618.4,350.1 619.4,350.1 620.4,350.1 621.4,350.1 622.4,350.1 623.4,350.1 624.4,350.0 625.4,350.0 626.4,350.0 627.4,350.0 628.4,349.9 629.4,349.9 630.4,349.9 631.4,349.8 632.4,349.8 633.4,349.7 634.4,349.7 635.4,349.6 636.4,349.6 637.4,349.5 638.4,349.5 639.4,349.4 640.4,349.4 641.4,349.3 642.4,349.2 643.4,349.2 644.4,349.1 645.4,349.1 646.4,349.0 647.4,349.0 648.4,348.9 649.4,348.8 650.4,348.8 651.4,348.7 652.4,348.7 653.4,348.6 654.4,348.5 655.4,348.5 656.4,348.4 657.4,348.3 658.4,348.3 659.4,348.2 660.4,348.1 661.4,347.9 662.4,347.8 663.4,347.6 664.4,347.4 665.4,347.2 666.4,346.9 667.4,346.6 668.4,346.3 669.4,346.0 670.4,345.6 671.4,345.3 672.4,344.9 673.4,344.5 674.4,344.0 675.4,343.5 676.4,342.8 677.4,341.9 678.4,340.8 679.4,339.6 680.4,338.3 681.4,337.0 682.4,335.3 683.4,333.4 684.4,331.3 685.4,329.1 686.4,326.9 687.4,324.6 688.4,322.3 689.4,319.6 690.4,316.5 691.4,312.7 692.4,308.3 693.4,303.5 694.4,298.3 695.4,292.7 696.4,286.4 697.4,279.4 698.4,271.7 699.4,263.2 700.4,254.3 701.4,244.7 702.4,234.5 703.4,223.4 704.4,210.5 705.4,197.4 706.4,186.0 707.4,176.5 708.4,167.9 709.4,159.3 710.4,150.4 711.4,141.5 712.4,132.6 712.6,130.8 713.6,126.7 714.6,122.6 715.6,118.4 716.0,116.8 717.0,118.2 718.0,119.6 719.0,121.0 719.4,121.6 720.4,125.9 721.4,130.6 722.4,135.8 723.4,141.6 724.4,147.8 725.4,154.6 726.4,161.7 727.4,169.7 728.4,178.1 729.4,186.5 730.4,195.0 731.4,203.7 732.4,212.4 733.4,221.5 734.4,230.5 735.4,238.8 736.4,246.5 737.4,253.9 738.4,260.9 739.4,267.7 740.4,274.3 741.4,280.6 742.4,286.6 743.4,292.3 744.4,297.8 745.4,302.9 746.4,307.6 747.4,311.9 748.4,315.9 749.4,319.6 750.4,323.1 751.4,326.4 752.4,329.5 753.4,332.2 754.4,334.6 755.4,336.8 756.4,338.9 757.4,340.7 758.4,342.1 759.4,343.4 760.4,344.6 761.4,345.6 762.4,346.5 763.4,347.2 764.4,347.8 765.4,348.3 766.4,348.8 767.4,349.3 768.4,349.7 769.4,350.0 770.4,350.2 771.4,350.4 772.4,350.5 773.4,350.6 774.4,350.7 775.4,350.8 776.4,350.9 777.4,351.0 778.4,351.0 779.4,351.1 780.4,351.1 781.4,351.2 782.4,351.2 783.4,351.2 784.4,351.2 785.4,351.2 786.4,351.3 787.4,351.3 788.4,351.3 789.4,351.3 790.4,351.3 791.0,351.3"/>
<polyline stroke="#000000" points="497.4,351.2 498.4,351.2 499.4,351.2 500.4,351.2 501.4,351.2 502.4,351.2 503.4,351.2 504.4,351.2 505.4,351.2 506.4,351.2 507.4,351.2 508.4,351.2 509.4,351.2 510.4,351.2 511.4,351.2 512.4,351.2 513.4,351.2 514.4,351.2 515.4,351.2 516.4,351.2 517.4,351.2 518.4,351.2 519.4,351.2 520.4,351.2 521.4,351.2 522.4,351.2 523.4,351.2 524.4,351.2 525.4,351.2 526.4,351.2 527.4,351.2 528.4,351.2 529.4,351.2 530.4,351.2 531.4,351.2 532.4,351.2 533.4,351.2 534.4,351.2 535.4,351.2 536.4,351.2 537.4,351.2 538.4,351.2 539.4,351.2 540.4,351.2 541.4,351.2 542.4,351.2 543.4,351.2 544.4,351.2 545.4,351.2 546.4,351.2 547.4,351.2 548.4,351.2 549.4,351.2 550.4,351.2 551.4,351.2 552.4,351.2 553.4,351.2 554.4,351.2 555.4,351.2 556.4,351.2 557.4,351.2 558.4,351.2 559.4,351.2 560.4,351.2 561.4,351.2 562.4,351.2 563.4,351.2 564.4,351.2 565.4,351.2 566.4,351.2 567.4,351.2 568.4,351.2 569.4,351.2 570.4,351.2 571.4,351.2 572.4,351.2 573.4,351.2 574.4,351.2 575.4,351.2 576.4,351.2 577.4,351.2 578.4,351.2 579.4,351.2 580.4,351.2 581.4,351.2 582.4,351.2 583.4,351.2 584.4,351.2 585.4,351.2 586.4,351.2 587.4,351.2 588.4,351.2 589.4,351.2 590.4,351.2 591.4,351.2 592.4,351.2 593.4,351.2 594.4,351.2 595.4,351.2 596.4,351.2 597.4,351.2 598.4,351.2 599.4,351.2 600.4,351.2 601.4,351.2 602.4,351.2 603.4,351.2 604.4,351.2 605.4,351.2 606.4,351.2 607.4,351.2 608.4,351.2 609.4,351.2 610.4,351.2 611.4,351.2 612.4,351.2 613.4,351.2 614.4,351.2 615.4,351.2 616.4,351.2 617.4,351.2 618.4,351.2 619.4,351.2 620.4,351.2 621.4,351.2 622.4,351.2 623.4,351.2 624.4,351.2 625.4,351.2 626.4,351.2 627.4,351.2 628.4,351.2 629.4,351.2 630.4,351.2 631.4,351.2 632.4,351.2 633.4,351.2 634.4,351.2 635.4,351.2 636.4,351.2 637.4,351.2 638.4,351.2 639.4,351.2 640.4,351.2 641.4,351.2 642.4,351.2 643.4,351.2 644.4,351.2 645.4,351.2 646.4,351.2 647.4,351.2 648.4,351.2 649.4,351.2 650.4,351.2 651.4,351.2 652.4,351.2 653.4,351.2 654.4,351.2 655.4,351.2 656.4,351.2 657.4,351.2 658.4,351.2 659.4,351.2 660.4,351.2 661.4,351.2 662.4,351.2 663.4,351.2 664.4,351.2 665.4,351.2 666.4,351.2 667.4,351.2 668.4,351.2 669.4,351.2 670.4,351.2 671.4,351.2 672.4,351.2 673.4,351.2 674.4,351.2 675.4,351.2 676.4,351.2 677.4,351.2 678.4,351.2 679.4,351.2 680.4,351.2 681.4,351.2 682.4,351.2 683.4,351.2 684.4,351.2 685.4,351.2 686.4,351.2 687.4,351.2 688.4,351.1 689.4,351.1 690.4,351.0 691.4,351.0 692.4,350.9 693.4,350.8 694.4,350.7 695.4,350.6 696.4,350.5 697.4,350.3 698.4,350.0 699.4,349.6 700.4,349.0 701.4,348.3 702.4,347.5 703.4,346.2 704.4,344.7 705.4,342.8 706.4,340.6 707.4,337.6 708.4,334.2 709.4,330.4 710.4,326.6 711.4,322.5 712.4,318.0 713.4,313.2 714.4,307.7 715.4,301.4 716.4,294.6 717.4,287.6 718.4,280.5 719.4,273.1 720.4,265.4 721.4,257.6 722.4,249.7 723.4,241.7 724.4,233.5 725.4,224.9 726.4,215.6 727.4,205.7 728.4,195.8 729.4,186.5 730.4,177.4 731.4,168.5 732.4,160.3 733.4,152.7 734.4,145.4 735.4,138.8 736.4,133.3 737.4,128.2 738.4,123.6 739.4,120.3 740.4,118.8 741.4,117.8 742.4,117.2 743.4,117.0 744.4,117.8 745.4,119.4 746.4,121.8 747.4,126.1 748.4,131.5 749.4,137.6 750.4,145.0 751.4,153.3 752.4,161.8 753.4,171.0 754.4,180.4 755.4,190.1 756.4,199.5 757.4,206.9 758.4,212.8 759.4,218.9 760.4,226.7 761.4,235.9 762.4,245.2 763.4,254.0 764.4,262.6 765.4,270.9 766.4,278.8 767.4,286.4 768.4,293.4 769.4,299.6 770.4,305.5 771.4,310.9 772.4,315.6 773.4,319.7 774.4,323.5 775.4,326.8 776.4,329.6 777.4,332.0 778.4,334.2 779.4,336.2 780.4,337.9 781.4,339.4 782.4,340.6 783.4,341.7 784.4,342.7 785.4,343.5 786.4,344.2 787.4,344.9 788.4,345.5 789.4,346.0 790.4,346.4 791.0,346.6"/>
<polyline stroke="#006400" points="497.4,350.6 498.4,350.6 499.4,350.6 500.4,350.6 501.4,350.6 502.4,350.6 503.4,350.6 504.4,350.6 505.4,350.6 506.4,350.6 507.4,350.6 508.4,350.6 509.4,350.6 510.4,350.6 511.4,350.6 512.4,350.6 513.4,350.6 514.4,350.6 515.4,350.6 516.4,350.6 517.4,350.6 518.4,350.6 519.4,350.6 520.4,350.6 521.4,350.6 522.4,350.6 523.4,350.6 524.4,350.6 525.4,350.6 526.4,350.6 527.4,350.6 528.4,350.6 529.4,350.6 530.4,350.6 531.4,350.6 532.4,350.6 533.4,350.6 534.4,350.6 535.4,350.6 536.4,350.6 537.4,350.6 538.4,350.6 539.4,350.6 540.4,350.6 541.4,350.6 542.4,350.6 543.4,350.6 544.4,350.6 545.4,350.6 546.4,350.6 547.4,350.6 548.4,350.6 549.4,350.6 550.4,350.6 551.4,350.6 552.4,350.6 553.4,350.6 554.4,350.6 555.4,350.6 556.4,350.6 557.4,350.6 558.4,350.6 559.4,350.6 560.4,350.6 561.4,350.6 562.4,350.6 563.4,350.6 564.4,350.6 565.4,350.6 566.4,350.6 567.4,350.6 568.4,350.6 569.4,350.6 570.4,350.6 571.4,350.6 572.4,350.6 573.4,350.6 574.4,350.6 575.4,350.6 576.4,350.6 577.4,350.6 578.4,350.6 579.4,350.6 580.4,350.6 581.4,350.6 582.4,350.6 583.4,350.6 584.4,350.6 585.4,350.6 586.4,350.6 587.4,350.6 588.4,350.6 589.4,350.6 590.4,350.6 591.4,350.6 592.4,350.6 593.4,350.6 594.4,350.6 595.4,350.6 596.4,350.6 597.4,350.6 598.4,350.6 599.4,350.6 600.4,350.6 601.4,350.6 602.4,350.6 603.4,350.6 604.4,350.6 605.4,350.6 606.4,350.6 607.4,350.6 608.4,350.6 609.4,350.6 610.4,350.6 611.4,350.6 612.4,350.6 613.4,350.6 614.4,350.5 615.4,350.5 616.4,350.5 617.4,350.5 618.4,350.5 619.4,350.5 620.4,350.5 621.4,350.5 622.4,350.5 623.4,350.5 624.4,350.5 625.4,350.5 626.4,350.5 627.4,350.5 628.4,350.5 629.4,350.5 630.4,350.5 631.4,350.5 632.4,350.5 633.4,350.5 634.4,350.5 635.4,350.5 636.4,350.5 637.4,350.5 638.4,350.5 639.4,350.5 640.4,350.5 641.4,350.5 642.4,350.5 643.4,350.5 644.4,350.5 645.4,350.5 646.4,350.5 647.4,350.5 648.4,350.5 649.4,350.5 650.4,350.5 651.4,350.5 652.4,350.5 653.4,350.5 654.4,350.5 655.4,350.4 656.4,350.4 657.4,350.4 658.4,350.3 659.4,350.3 660.4,350.3 661.4,350.2 662.4,350.2 663.4,350.1 664.4,350.1 665.4,350.0 666.4,350.0 667.4,349.9 668.4,349.9 669.4,349.8 670.4,349.7 671.4,349.7 672.4,349.6 673.4,349.5 674.4,349.3 675.4,349.2 676.4,349.1 677.4,348.9 678.4,348.8 679.4,348.6 680.4,348.4 681.4,348.2 682.4,348.1 683.4,347.9 684.4,347.7 685.4,347.5 686.4,347.2 687.4,347.0 688.4,346.7 689.4,346.4 690.4,346.1 691.4,345.8 692.4,345.4 693.4,345.0 694.4,344.5 695.4,344.0 696.4,343.4 697.4,342.7 698.4,342.0 699.4,341.2 700.4,340.2 701.4,339.1 702.4,337.8 703.4,336.3 704.4,334.2 705.4,331.6 706.4,328.6 707.4,325.2 708.4,321.2 709.4,316.6 710.4,311.4 711.4,305.4 712.4,298.1 713.4,290.4 714.4,282.7 715.4,274.7 716.4,266.3 717.4,257.3 718.4,247.8 719.4,238.1 720.4,228.9 721.4,219.7 722.4,210.0 723.4,199.6 724.4,189.1 725.4,178.9 726.4,168.9 727.4,159.7 728.4,151.2 729.4,143.4 730.4,136.7 731.4,130.9 732.4,125.8 733.4,122.2 734.4,119.4 735.4,117.6 736.4,117.1 737.4,117.0 738.4,117.4 739.4,118.9 740.4,121.1 741.4,124.2 742.4,129.4 743.4,135.5 744.4,142.0 745.4,149.4 746.4,157.2 747.4,165.1 748.4,173.1 749.4,181.5 750.4,190.1 751.4,199.0 752.4,208.0 753.4,217.3 754.4,226.7 755.4,235.8 756.4,244.2 757.4,252.3 758.4,259.5 759.4,266.0 760.4,272.0 761.4,277.3 762.4,281.9 763.4,286.0 764.4,289.8 765.4,293.3 766.4,296.7 767.4,299.9 768.4,302.9 769.4,305.6 770.4,308.0 771.4,310.2 772.4,312.1 773.4,313.6 774.4,314.8 775.4,315.8 776.4,316.7 777.4,317.3 778.4,317.5 779.4,317.5 780.4,317.4 781.4,317.3 782.4,317.2 783.4,317.1 784.4,317.1 785.4,317.2 786.4,317.3 787.4,317.6 788.4,317.9 789.4,318.3 790.4,318.7 791.0,319.0"/>
<polyline stroke="#a0522d" points="497.4,351.4 498.4,351.4 499.4,351.4 500.4,351.4 501.4,351.4 502.4,351.4 503.4,351.4 504.4,351.4 505.4,351.4 506.4,351.4 507.4,351.4 508.4,351.4 509.4,351.4 510.4,351.4 511.4,351.4 512.4,351.4 513.4,351.4 514.4,351.4 515.4,351.4 516.4,351.4 517.4,351.4 518.4,351.4 519.4,351.4 520.4,351.4 521.4,351.4 522.4,351.4 523.4,351.4 524.4,351.4 525.4,351.4 526.4,351.4 527.4,351.4 528.4,351.4 529.4,351.4 530.4,351.4 531.4,351.4 532.4,351.4 533.4,351.4 534.4,351.4 535.4,351.4 536.4,351.4 537.4,351.4 538.4,351.4 539.4,351.4 540.4,351.4 541.4,351.4 542.4,351.4 543.4,351.4 544.4,351.4 545.4,351.4 546.4,351.4 547.4,351.4 548.4,351.4 549.4,351.4 550.4,351.4 551.4,351.4 552.4,351.4 553.4,351.4 554.4,351.4 555.4,351.4 556.4,351.4 557.4,351.4 558.4,351.4 559.4,351.4 560.4,351.4 561.4,351.4 562.4,351.4 563.4,351.4 564.4,351.4 565.4,351.4 566.4,351.4 567.4,351.4 568.4,351.4 569.4,351.4 570.4,351.4 571.4,351.4 572.4,351.4 573.4,351.4 574.4,351.4 575.4,351.4 576.4,351.4 577.4,351.4 578.4,351.4 579.4,351.4 580.4,351.4 581.4,351.4 582.4,351.4 583.4,351.4 584.4,351.4 585.4,351.4 586.4,351.4 587.4,351.4 588.4,351.4 589.4,351.4 590.4,351.4 591.4,351.4 592.4,351.4 593.4,351.4 594.4,351.4 595.4,351.4 596.4,351.4 597.4,351.4 598.4,351.4 599.4,351.4 600.4,351.4 601.4,351.4 602.4,351.4 603.4,351.4 604.4,351.4 605.4,351.4 606.4,351.4 607.4,351.4 608.4,351.4 609.4,351.4 610.4,351.4 611.4,351.4 612.4,351.4 613.4,351.4 614.4,351.4 615.4,351.4 616.4,351.4 617.4,351.4 618.4,351.4 619.4,351.4 620.4,351.4 621.4,351.4 622.4,351.4 623.4,351.4 624.4,351.4 625.4,351.4 626.4,351.4 627.4,351.4 628.4,351.4 629.4,351.4 630.4,351.4 631.4,351.4 632.4,351.4 633.4,351.4 634.4,351.4 635.4,351.4 636.4,351.4 637.4,351.4 638.4,351.4 639.4,351.4 640.4,351.4 641.4,351.4 642.4,351.4 643.4,351.4 644.4,351.4 645.4,351.4 646.4,351.4 647.4,351.4 648.4,351.4 649.4,351.4 650.4,351.4 651.4,351.4 652.4,351.4 653.4,351.4 654.4,351.4 655.4,351.4 656.4,351.3 657.4,351.3 658.4,351.3 659.4,351.3 660.4,351.3 661.4,351.3 662.4,351.3 663.4,351.3 664.4,351.3 665.4,351.3 666.4,351.3 667.4,351.3 668.4,351.3 669.4,351.3 670.4,351.3 671.4,351.3 672.4,351.3 673.4,351.3 674.4,351.3 675.4,351.3 676.4,351.3 677.4,351.3 678.4,351.3 679.4,351.3 680.4,351.3 681.4,351.3 682.4,351.3 683.4,351.3 684.4,351.3 685.4,351.3 686.4,351.3 687.4,351.3 688.4,351.3 689.4,351.3 690.4,351.3 691.4,351.3 692.4,351.3 693.4,351.3 694.4,351.3 695.4,351.3 696.4,351.3 697.4,351.3 698.4,351.3 699.4,351.3 700.4,351.3 701.4,351.3 702.4,351.2 703.4,351.1 704.4,351.0 705.4,350.9 706.4,350.7 707.4,350.5 708.4,350.3 709.4,350.1 710.4,349.8 711.4,349.6 712.4,349.3 713.4,349.0 714.4,348.4 715.4,347.8 716.4,347.0 717.4,346.1 718.4,345.0 719.4,343.5 720.4,341.6 721.4,339.5 722.4,337.3 723.4,334.9 724.4,332.1 725.4,328.9 726.4,325.3 727.4,321.1 728.4,316.3 729.4,310.9 730.4,305.2 731.4,299.0 732.4,292.1 733.4,284.7 734.4,276.8 735.4,268.2 736.4,258.7 737.4,248.2 738.4,236.6 739.4,224.1 740.4,210.0 741.4,196.0 742.4,183.2 743.4,171.1 744.4,159.9 745.4,149.1 746.4,139.8 747.4,132.2 748.4,125.6 749.4,121.2 750.4,119.1 751.4,117.6 752.4,117.0 753.4,117.8 754.4,119.8 755.4,122.5 756.4,127.0 757.4,133.6 758.4,140.3 759.4,146.8 760.4,153.5 761.4,160.1 762.4,166.6 763.4,173.0 764.4,179.2 765.4,185.3 766.4,191.1 767.4,196.8 768.4,202.8 769.4,209.5 770.4,215.7 771.4,219.8 772.4,223.2 773.4,225.7 774.4,227.3 775.4,228.6 776.4,229.4 777.4,229.1 778.4,227.6 779.4,225.4 780.4,223.0 781.4,219.1 782.4,214.6 783.4,211.3 784.4,208.6 785.4,206.6 786.4,205.8 787.4,205.4 788.4,205.2 789.4,205.0 790.4,204.9 791.0,204.9"/>
</g>
<line x1="661.30" y1="350.90" x2="661.30" y2="118.00" stroke="#ff0000" stroke-width="1.55" stroke-linecap="round" stroke-dasharray="7.1 8.97"/>
<line x1="675.60" y1="350.90" x2="675.60" y2="118.00" stroke="#ff0000" stroke-width="1.55" stroke-linecap="round" stroke-dasharray="7.1 8.97"/>
<line x1="697.10" y1="350.90" x2="697.10" y2="118.00" stroke="#ff0000" stroke-width="1.55" stroke-linecap="round" stroke-dasharray="7.1 8.97"/>
<line x1="716.00" y1="350.90" x2="716.00" y2="118.00" stroke="#ff0000" stroke-width="1.55" stroke-linecap="round" stroke-dasharray="7.1 8.97"/>
<line x1="738.10" y1="350.90" x2="738.10" y2="118.00" stroke="#ff0000" stroke-width="1.55" stroke-linecap="round" stroke-dasharray="7.1 8.97"/>
<line x1="758.40" y1="350.90" x2="758.40" y2="118.00" stroke="#ff0000" stroke-width="1.55" stroke-linecap="round" stroke-dasharray="7.1 8.97"/>
<g transform="translate(667.10 114.70) rotate(-90)"><text x="0.00" y="0.00" font-size="12.00" fill="#ff0000" font-weight="normal" text-anchor="start" stroke="#ff0000" stroke-width="0.25">3</text><text x="13.20" y="0.00" font-size="10.50" fill="#ff0000" font-weight="normal" text-anchor="start" stroke="#ff0000" stroke-width="0.25">x</text><text x="26.40" y="0.00" font-size="12.00" fill="#ff0000" font-weight="normal" text-anchor="start" letter-spacing="0.60" stroke="#ff0000" stroke-width="0.25">10</text><text x="40.60" y="-4.60" font-size="8.20" fill="#ff0000" font-weight="bold" text-anchor="start" letter-spacing="0.30">−5</text></g>
<g transform="translate(681.40 100.80) rotate(-90)"><text x="0.00" y="0.00" font-size="12.00" fill="#ff0000" font-weight="normal" text-anchor="start" letter-spacing="0.60" stroke="#ff0000" stroke-width="0.25">10</text><text x="14.20" y="-4.60" font-size="8.20" fill="#ff0000" font-weight="bold" text-anchor="start" letter-spacing="0.30">−4</text></g>
<g transform="translate(702.90 100.80) rotate(-90)"><text x="0.00" y="0.00" font-size="12.00" fill="#ff0000" font-weight="normal" text-anchor="start" letter-spacing="0.60" stroke="#ff0000" stroke-width="0.25">10</text><text x="14.20" y="-4.60" font-size="8.20" fill="#ff0000" font-weight="bold" text-anchor="start" letter-spacing="0.30">−3</text></g>
<g transform="translate(721.80 100.80) rotate(-90)"><text x="0.00" y="0.00" font-size="12.00" fill="#ff0000" font-weight="normal" text-anchor="start" letter-spacing="0.60" stroke="#ff0000" stroke-width="0.25">10</text><text x="14.20" y="-4.60" font-size="8.20" fill="#ff0000" font-weight="bold" text-anchor="start" letter-spacing="0.30">−2</text></g>
<g transform="translate(744.40 98.90) rotate(-90)"><text x="0.00" y="0.00" font-size="12.00" fill="#ff0000" font-weight="normal" text-anchor="start" letter-spacing="0.50" stroke="#ff0000" stroke-width="0.25">0.1</text></g>
<g transform="translate(764.70 98.90) rotate(-90)"><text x="0.00" y="0.00" font-size="12.00" fill="#ff0000" font-weight="normal" text-anchor="start" letter-spacing="0.50" stroke="#ff0000" stroke-width="0.25">0.5</text></g>
<text x="509.20" y="93.70" font-size="11.00" fill="#ff0000" font-weight="normal" text-anchor="start" stroke="#ff0000" stroke-width="0.35">f</text>
<text x="513.10" y="94.20" font-size="13.50" fill="#ff0000" font-weight="normal" text-anchor="start" stroke="#ff0000" stroke-width="0.35">(</text>
<text x="518.00" y="93.70" font-size="10.80" fill="#ff0000" font-weight="normal" text-anchor="start" stroke="#ff0000" stroke-width="0.35">H</text>
<text x="526.50" y="97.40" font-size="8.20" fill="#ff0000" font-weight="bold" text-anchor="start" stroke="#ff0000" stroke-width="0.3">2</text>
<text x="532.00" y="94.20" font-size="13.50" fill="#ff0000" font-weight="normal" text-anchor="start" stroke="#ff0000" stroke-width="0.35">)</text>
<line x1="543.90" y1="88.90" x2="551.30" y2="88.90" stroke="#ff0000" stroke-width="1.40"/>
<line x1="543.90" y1="91.90" x2="551.30" y2="91.90" stroke="#ff0000" stroke-width="1.40"/>
<text x="508.60" y="58.50" font-size="16.40" fill="#0000ff" font-weight="normal" text-anchor="start" letter-spacing="0.50" stroke="#0000ff" stroke-width="0.75" stroke-linejoin="round">ArH</text>
<text x="539.30" y="50.90" font-size="12.50" fill="#0000ff" font-weight="bold" text-anchor="start" stroke="#0000ff" stroke-width="0.5">+</text>
<text x="564.80" y="58.50" font-size="16.40" fill="#ff00ff" font-weight="normal" text-anchor="start" letter-spacing="0.70" stroke="#ff00ff" stroke-width="0.75" stroke-linejoin="round">HCl</text>
<text x="594.40" y="50.90" font-size="12.50" fill="#ff00ff" font-weight="bold" text-anchor="start" stroke="#ff00ff" stroke-width="0.5">+</text>
<text x="621.00" y="58.50" font-size="16.40" fill="#000" font-weight="normal" text-anchor="start" letter-spacing="0.50" stroke="#000" stroke-width="0.75" stroke-linejoin="round">H</text>
<text x="633.20" y="63.40" font-size="12.00" fill="#000" font-weight="bold" text-anchor="start" stroke="#000" stroke-width="0.3">2</text>
<text x="641.10" y="58.50" font-size="16.40" fill="#000" font-weight="normal" text-anchor="start" letter-spacing="0.20" stroke="#000" stroke-width="0.75" stroke-linejoin="round">Cl</text>
<text x="657.80" y="50.90" font-size="12.50" fill="#000" font-weight="bold" text-anchor="start" stroke="#000" stroke-width="0.5">+</text>
<text x="677.10" y="58.50" font-size="16.40" fill="#006400" font-weight="normal" text-anchor="start" letter-spacing="0.30" stroke="#006400" stroke-width="0.75" stroke-linejoin="round">OH</text>
<text x="703.20" y="50.90" font-size="12.50" fill="#006400" font-weight="bold" text-anchor="start" stroke="#006400" stroke-width="0.5">+</text>
<text x="734.00" y="58.50" font-size="16.40" fill="#a0522d" font-weight="normal" text-anchor="start" letter-spacing="0.50" stroke="#a0522d" stroke-width="0.75" stroke-linejoin="round">H</text>
<text x="746.00" y="63.40" font-size="12.00" fill="#a0522d" font-weight="bold" text-anchor="start" stroke="#a0522d" stroke-width="0.3">2</text>
<text x="752.80" y="58.50" font-size="16.40" fill="#a0522d" font-weight="normal" text-anchor="start" letter-spacing="0.50" stroke="#a0522d" stroke-width="0.75" stroke-linejoin="round">O</text>
<text x="767.10" y="50.90" font-size="12.50" fill="#a0522d" font-weight="bold" text-anchor="start" stroke="#a0522d" stroke-width="0.5">+</text>
<text x="493.10" y="20.40" font-size="18.80" fill="#000" font-weight="normal" text-anchor="start" font-style="italic">χ</text>
<text x="504.20" y="24.00" font-size="10.20" fill="#000" font-weight="normal" text-anchor="start" stroke="#000" stroke-width="0.22">UV</text>
<line x1="520.40" y1="24.00" x2="530.90" y2="5.10" stroke="#000" stroke-width="1.30"/>
<text x="532.10" y="19.65" font-size="17.30" fill="#000" font-weight="normal" text-anchor="start">n</text>
<text x="543.00" y="24.60" font-size="11.20" fill="#000" font-weight="normal" text-anchor="start" textLength="15.0" lengthAdjust="spacingAndGlyphs" stroke="#000" stroke-width="0.22">50</text>
<line x1="569.10" y1="12.35" x2="580.30" y2="12.35" stroke="#000" stroke-width="1.30"/>
<line x1="569.10" y1="16.65" x2="580.30" y2="16.65" stroke="#000" stroke-width="1.30"/>
<text x="592.10" y="19.65" font-size="18.00" fill="#000" font-weight="normal" text-anchor="start" textLength="12.0" lengthAdjust="spacingAndGlyphs">5</text>
<text x="603.80" y="19.65" font-size="17.00" fill="#000" font-weight="normal" text-anchor="start">,</text>
<text x="637.70" y="20.65" font-size="19.80" fill="#000" font-weight="normal" text-anchor="start">ζ</text>
<text x="648.50" y="23.60" font-size="10.40" fill="#000" font-weight="normal" text-anchor="start" stroke="#000" stroke-width="0.22">p</text>
<text x="655.20" y="20.25" font-size="20.50" fill="#000" font-weight="normal" text-anchor="start">(</text>
<text x="662.40" y="19.65" font-size="17.00" fill="#000" font-weight="normal" text-anchor="start" textLength="13.5" lengthAdjust="spacingAndGlyphs">H</text>
<text x="676.60" y="20.25" font-size="20.50" fill="#000" font-weight="normal" text-anchor="start">)</text>
<text x="685.30" y="24.50" font-size="11.20" fill="#000" font-weight="normal" text-anchor="start" textLength="8.2" lengthAdjust="spacingAndGlyphs" stroke="#000" stroke-width="0.22">−</text>
<text x="695.40" y="24.50" font-size="11.20" fill="#000" font-weight="normal" text-anchor="start" stroke="#000" stroke-width="0.22">1</text>
<text x="701.10" y="24.50" font-size="11.20" fill="#000" font-weight="normal" text-anchor="start" textLength="7.6" lengthAdjust="spacingAndGlyphs" stroke="#000" stroke-width="0.22">6</text>
<line x1="709.00" y1="24.60" x2="720.00" y2="4.70" stroke="#000" stroke-width="1.30"/>
<text x="721.90" y="19.65" font-size="17.30" fill="#000" font-weight="normal" text-anchor="start">n</text>
<text x="732.70" y="24.60" font-size="11.20" fill="#000" font-weight="normal" text-anchor="start" textLength="15.0" lengthAdjust="spacingAndGlyphs" stroke="#000" stroke-width="0.22">50</text>
<line x1="758.60" y1="12.35" x2="769.60" y2="12.35" stroke="#000" stroke-width="1.30"/>
<line x1="758.60" y1="16.65" x2="769.60" y2="16.65" stroke="#000" stroke-width="1.30"/>
<text x="781.70" y="19.65" font-size="18.00" fill="#000" font-weight="normal" text-anchor="start" textLength="10.8" lengthAdjust="spacingAndGlyphs">2</text>
<text x="509.56" y="373.60" font-size="16.30" fill="#000" font-weight="normal" text-anchor="middle" letter-spacing="1.20">−5</text>
<text x="565.83" y="373.60" font-size="16.30" fill="#000" font-weight="normal" text-anchor="middle" letter-spacing="1.20">−4</text>
<text x="622.11" y="373.60" font-size="16.30" fill="#000" font-weight="normal" text-anchor="middle" letter-spacing="1.20">−3</text>
<text x="678.39" y="373.60" font-size="16.30" fill="#000" font-weight="normal" text-anchor="middle" letter-spacing="1.20">−2</text>
<text x="734.67" y="373.60" font-size="16.30" fill="#000" font-weight="normal" text-anchor="middle" letter-spacing="1.20">−1</text>
<text x="790.95" y="373.60" font-size="16.30" fill="#000" font-weight="normal" text-anchor="middle" letter-spacing="1.20">0</text>
<text x="493.40" y="352.80" font-size="16.30" fill="#000" font-weight="normal" text-anchor="end" letter-spacing="0.45">0.0</text>
<text x="493.40" y="310.70" font-size="16.30" fill="#000" font-weight="normal" text-anchor="end" letter-spacing="0.45">0.2</text>
<text x="493.40" y="263.90" font-size="16.30" fill="#000" font-weight="normal" text-anchor="end" letter-spacing="0.45">0.4</text>
<text x="493.40" y="217.10" font-size="16.30" fill="#000" font-weight="normal" text-anchor="end" letter-spacing="0.45">0.6</text>
<text x="493.40" y="170.30" font-size="16.30" fill="#000" font-weight="normal" text-anchor="end" letter-spacing="0.45">0.8</text>
<text x="493.40" y="123.50" font-size="16.30" fill="#000" font-weight="normal" text-anchor="end" letter-spacing="0.45">1.0</text>
<text x="493.40" y="76.70" font-size="16.30" fill="#000" font-weight="normal" text-anchor="end" letter-spacing="0.45">1.2</text>
<text x="616.70" y="392.00" font-size="15.20" fill="#000" font-weight="normal" text-anchor="start" letter-spacing="0.60">log</text>
<text x="638.80" y="395.20" font-size="10.20" fill="#000" font-weight="normal" text-anchor="start" stroke="#000" stroke-width="0.22">10</text>
<text x="656.90" y="392.00" font-size="15.20" fill="#000" font-weight="normal" text-anchor="start">A</text>
<text x="665.90" y="395.20" font-size="9.60" fill="#000" font-weight="normal" text-anchor="start" stroke="#000" stroke-width="0.22">V</text>
<g transform="translate(457.40 248.50) rotate(-90)"><text x="0.00" y="0.00" font-size="16.60" fill="#000" font-weight="normal" text-anchor="start" textLength="30.3" lengthAdjust="spacingAndGlyphs">n(X)</text><line x1="31.40" y1="3.20" x2="47.20" y2="-12.80" stroke="#000" stroke-width="1.30"/><text x="48.20" y="0.00" font-size="16.60" fill="#000" font-weight="normal" text-anchor="start" textLength="67.6" lengthAdjust="spacingAndGlyphs">max[n(X)]</text></g>
</g>
<g id="panel3">
<g stroke="#000" stroke-width="1" fill="none" shape-rendering="auto" opacity="0.62">
<rect x="89.50" y="436.50" width="292.00" height="323.90"/>
<path d="M89.50 760.40v-3.20M89.50 436.50v3.20M95.12 760.40v-3.20M95.12 436.50v3.20M100.73 760.40v-6.30M100.73 436.50v6.30M106.35 760.40v-3.20M106.35 436.50v3.20M111.96 760.40v-3.20M111.96 436.50v3.20M117.58 760.40v-3.20M117.58 436.50v3.20M123.19 760.40v-3.20M123.19 436.50v3.20M128.81 760.40v-3.20M128.81 436.50v3.20M134.42 760.40v-3.20M134.42 436.50v3.20M140.04 760.40v-3.20M140.04 436.50v3.20M145.65 760.40v-3.20M145.65 436.50v3.20M151.27 760.40v-3.20M151.27 436.50v3.20M156.88 760.40v-6.30M156.88 436.50v6.30M162.50 760.40v-3.20M162.50 436.50v3.20M168.12 760.40v-3.20M168.12 436.50v3.20M173.73 760.40v-3.20M173.73 436.50v3.20M179.35 760.40v-3.20M179.35 436.50v3.20M184.96 760.40v-3.20M184.96 436.50v3.20M190.58 760.40v-3.20M190.58 436.50v3.20M196.19 760.40v-3.20M196.19 436.50v3.20M201.81 760.40v-3.20M201.81 436.50v3.20M207.42 760.40v-3.20M207.42 436.50v3.20M213.04 760.40v-6.30M213.04 436.50v6.30M218.65 760.40v-3.20M218.65 436.50v3.20M224.27 760.40v-3.20M224.27 436.50v3.20M229.88 760.40v-3.20M229.88 436.50v3.20M235.50 760.40v-3.20M235.50 436.50v3.20M241.12 760.40v-3.20M241.12 436.50v3.20M246.73 760.40v-3.20M246.73 436.50v3.20M252.35 760.40v-3.20M252.35 436.50v3.20M257.96 760.40v-3.20M257.96 436.50v3.20M263.58 760.40v-3.20M263.58 436.50v3.20M269.19 760.40v-6.30M269.19 436.50v6.30M274.81 760.40v-3.20M274.81 436.50v3.20M280.42 760.40v-3.20M280.42 436.50v3.20M286.04 760.40v-3.20M286.04 436.50v3.20M291.65 760.40v-3.20M291.65 436.50v3.20M297.27 760.40v-3.20M297.27 436.50v3.20M302.88 760.40v-3.20M302.88 436.50v3.20M308.50 760.40v-3.20M308.50 436.50v3.20M314.12 760.40v-3.20M314.12 436.50v3.20M319.73 760.40v-3.20M319.73 436.50v3.20M325.35 760.40v-6.30M325.35 436.50v6.30M330.96 760.40v-3.20M330.96 436.50v3.20M336.58 760.40v-3.20M336.58 436.50v3.20M342.19 760.40v-3.20M342.19 436.50v3.20M347.81 760.40v-3.20M347.81 436.50v3.20M353.42 760.40v-3.20M353.42 436.50v3.20M359.04 760.40v-3.20M359.04 436.50v3.20M364.65 760.40v-3.20M364.65 436.50v3.20M370.27 760.40v-3.20M370.27 436.50v3.20M375.88 760.40v-3.20M375.88 436.50v3.20M381.50 760.40v-6.30M381.50 436.50v6.30M89.50 760.40h5.80M381.50 760.40h-5.80M89.50 748.66h2.90M381.50 748.66h-2.90M89.50 736.92h2.90M381.50 736.92h-2.90M89.50 725.18h2.90M381.50 725.18h-2.90M89.50 713.44h5.80M381.50 713.44h-5.80M89.50 701.70h2.90M381.50 701.70h-2.90M89.50 689.96h2.90M381.50 689.96h-2.90M89.50 678.22h2.90M381.50 678.22h-2.90M89.50 666.48h5.80M381.50 666.48h-5.80M89.50 654.74h2.90M381.50 654.74h-2.90M89.50 643.00h2.90M381.50 643.00h-2.90M89.50 631.26h2.90M381.50 631.26h-2.90M89.50 619.52h5.80M381.50 619.52h-5.80M89.50 607.78h2.90M381.50 607.78h-2.90M89.50 596.04h2.90M381.50 596.04h-2.90M89.50 584.30h2.90M381.50 584.30h-2.90M89.50 572.56h5.80M381.50 572.56h-5.80M89.50 560.82h2.90M381.50 560.82h-2.90M89.50 549.08h2.90M381.50 549.08h-2.90M89.50 537.34h2.90M381.50 537.34h-2.90M89.50 525.60h5.80M381.50 525.60h-5.80M89.50 513.87h2.90M381.50 513.87h-2.90M89.50 502.13h2.90M381.50 502.13h-2.90M89.50 490.39h2.90M381.50 490.39h-2.90M89.50 478.65h5.80M381.50 478.65h-5.80M89.50 466.91h2.90M381.50 466.91h-2.90M89.50 455.17h2.90M381.50 455.17h-2.90M89.50 443.43h2.90M381.50 443.43h-2.90"/>
</g>
<clipPath id="clip3"><rect x="89.00" y="436.50" width="293.00" height="325.90"/></clipPath>
<g clip-path="url(#clip3)" fill="none" stroke-width="2.9" stroke-linejoin="round" stroke-linecap="butt">
<polyline stroke="#0000ff" points="89.0,565.8 90.0,565.8 91.0,565.8 92.0,565.8 93.0,565.8 94.0,565.8 95.0,565.8 96.0,565.7 97.0,565.7 98.0,565.7 99.0,565.7 100.0,565.7 101.0,565.6 102.0,565.6 103.0,565.6 104.0,565.6 105.0,565.5 106.0,565.5 107.0,565.5 108.0,565.4 109.0,565.4 110.0,565.4 111.0,565.3 112.0,565.3 113.0,565.3 114.0,565.2 115.0,565.2 116.0,565.1 117.0,565.1 118.0,565.0 119.0,565.0 120.0,564.9 121.0,564.9 122.0,564.8 123.0,564.7 124.0,564.7 125.0,564.6 126.0,564.5 127.0,564.4 128.0,564.3 129.0,564.2 130.0,564.2 131.0,564.1 132.0,564.0 133.0,563.9 134.0,563.8 135.0,563.7 136.0,563.6 137.0,563.5 138.0,563.4 139.0,563.3 140.0,563.2 141.0,563.1 142.0,562.9 143.0,562.8 144.0,562.7 145.0,562.6 146.0,562.4 147.0,562.3 148.0,562.1 149.0,562.0 150.0,561.8 151.0,561.7 152.0,561.5 153.0,561.4 154.0,561.2 155.0,561.0 156.0,560.9 157.0,560.7 158.0,560.5 159.0,560.3 160.0,560.1 161.0,559.9 162.0,559.7 163.0,559.4 164.0,559.2 165.0,559.0 166.0,558.7 167.0,558.5 168.0,558.2 169.0,558.0 170.0,557.7 171.0,557.4 172.0,557.1 173.0,556.8 174.0,556.5 175.0,556.2 176.0,555.9 177.0,555.6 178.0,555.2 179.0,554.9 180.0,554.5 181.0,554.1 182.0,553.8 183.0,553.4 184.0,553.0 185.0,552.5 186.0,552.1 187.0,551.7 188.0,551.2 189.0,550.7 190.0,550.2 191.0,549.7 192.0,549.2 193.0,548.6 194.0,548.0 195.0,547.4 196.0,546.7 197.0,546.0 198.0,545.2 199.0,544.4 200.0,543.5 201.0,542.7 202.0,541.8 203.0,540.8 204.0,539.9 205.0,538.9 206.0,537.9 207.0,536.9 208.0,535.8 209.0,534.8 210.0,533.8 211.0,532.8 212.0,531.8 213.0,530.9 214.0,529.9 215.0,528.9 216.0,528.0 216.8,527.2 217.8,527.0 218.8,526.8 219.8,526.5 220.8,526.3 221.8,526.1 222.8,525.9 223.8,525.7 224.1,525.6 225.1,528.6 226.1,531.7 227.1,534.7 228.1,537.8 229.1,540.8 230.1,543.8 231.1,546.9 231.5,548.1 232.5,555.4 233.5,562.6 234.5,569.7 235.5,576.8 236.5,583.8 237.5,590.7 238.5,597.8 239.5,605.2 240.5,612.8 241.5,620.5 242.5,628.2 243.5,635.8 244.5,643.4 245.5,651.0 246.5,658.6 247.5,665.9 248.5,672.8 249.5,679.4 250.5,685.7 251.5,691.6 252.5,697.0 253.5,702.0 254.5,706.6 255.5,711.0 256.5,715.0 257.5,718.8 258.5,722.3 259.5,725.6 260.5,728.6 261.5,731.3 262.5,733.9 263.5,736.3 264.5,738.5 265.5,740.4 266.5,742.1 267.5,743.6 268.5,745.1 269.5,746.4 270.5,747.5 271.5,748.6 272.5,749.5 273.5,750.5 274.5,751.3 275.5,752.1 276.5,752.8 277.5,753.5 278.5,754.0 279.5,754.5 280.5,754.9 281.5,755.2 282.5,755.6 283.5,755.9 284.5,756.2 285.5,756.4 286.5,756.7 287.5,756.9 288.5,757.1 289.5,757.4 290.5,757.6 291.5,757.8 292.5,758.0 293.5,758.2 294.5,758.4 295.5,758.6 296.5,758.7 297.5,758.9 298.5,759.0 299.5,759.1 300.5,759.2 301.5,759.3 302.5,759.3 303.5,759.4 304.5,759.5 305.5,759.5 306.5,759.6 307.5,759.7 308.5,759.7 309.5,759.8 310.5,759.8 311.5,759.8 312.5,759.9 313.5,759.9 314.5,759.9 315.5,760.0 316.5,760.0 317.5,760.0 318.5,760.0 319.5,760.0 320.5,760.0 321.5,760.0 322.5,760.0 323.5,760.1 324.5,760.1 325.5,760.1 326.5,760.1 327.5,760.1 328.5,760.1 329.5,760.1 330.5,760.1 331.5,760.1 332.5,760.1 333.5,760.1 334.5,760.1 335.5,760.1 336.5,760.2 337.5,760.2 338.5,760.2 339.5,760.2 340.5,760.2 341.5,760.2 342.5,760.2 343.5,760.2 344.5,760.2 345.5,760.2 346.5,760.2 347.5,760.2 348.5,760.2 349.5,760.2 350.5,760.2 351.5,760.2 352.5,760.2 353.5,760.2 354.5,760.2 355.5,760.3 356.5,760.3 357.5,760.3 358.5,760.3 359.5,760.3 360.5,760.3 361.5,760.3 362.5,760.3 363.5,760.3 364.5,760.3 365.5,760.3 366.5,760.3 367.5,760.3 368.5,760.3 369.5,760.3 370.5,760.3 371.5,760.3 372.5,760.3 373.5,760.3 374.5,760.3 375.5,760.3 376.5,760.3 377.5,760.3 378.5,760.3 379.5,760.3 380.5,760.3 381.5,760.3 382.0,760.3"/>
<polyline stroke="#ff00ff" points="89.0,741.0 90.0,741.0 91.0,741.0 92.0,741.0 93.0,741.0 94.0,741.0 95.0,740.9 96.0,740.9 97.0,740.9 98.0,740.9 99.0,740.9 100.0,740.9 101.0,740.8 102.0,740.8 103.0,740.8 104.0,740.8 105.0,740.8 106.0,740.8 107.0,740.7 108.0,740.7 109.0,740.7 110.0,740.7 111.0,740.7 112.0,740.7 113.0,740.6 114.0,740.6 115.0,740.6 116.0,740.6 117.0,740.6 118.0,740.5 119.0,740.5 120.0,740.5 121.0,740.5 122.0,740.5 123.0,740.4 124.0,740.4 125.0,740.4 126.0,740.4 127.0,740.4 128.0,740.3 129.0,740.3 130.0,740.3 131.0,740.3 132.0,740.3 133.0,740.2 134.0,740.2 135.0,740.2 136.0,740.2 137.0,740.2 138.0,740.1 139.0,740.1 140.0,740.1 141.0,740.1 142.0,740.1 143.0,740.0 144.0,740.0 145.0,740.0 146.0,739.9 147.0,739.9 148.0,739.9 149.0,739.9 150.0,739.8 151.0,739.8 152.0,739.8 153.0,739.7 154.0,739.7 155.0,739.6 156.0,739.6 157.0,739.5 158.0,739.5 159.0,739.4 160.0,739.3 161.0,739.3 162.0,739.2 163.0,739.1 164.0,739.0 165.0,738.9 166.0,738.8 167.0,738.7 168.0,738.6 169.0,738.5 170.0,738.4 171.0,738.3 172.0,738.2 173.0,738.1 174.0,738.0 175.0,737.9 176.0,737.8 177.0,737.6 178.0,737.5 179.0,737.4 180.0,737.2 181.0,737.1 182.0,736.9 183.0,736.8 184.0,736.6 185.0,736.4 186.0,736.2 187.0,736.1 188.0,735.9 189.0,735.7 190.0,735.5 191.0,735.3 192.0,735.1 193.0,734.8 194.0,734.6 195.0,734.3 196.0,734.0 197.0,733.6 198.0,733.2 199.0,732.8 200.0,732.4 201.0,731.9 202.0,731.4 203.0,731.0 204.0,730.5 205.0,730.0 206.0,729.4 207.0,728.9 208.0,728.2 209.0,727.6 210.0,726.9 211.0,726.1 212.0,725.2 213.0,724.3 214.0,723.3 215.0,722.3 216.0,721.1 217.0,719.8 218.0,718.3 219.0,716.7 220.0,714.8 221.0,712.6 222.0,710.3 223.0,707.7 224.0,704.8 225.0,701.2 226.0,696.9 227.0,692.0 228.0,687.2 229.0,682.4 230.0,677.5 231.0,672.4 232.0,667.1 233.0,661.8 234.0,656.3 235.0,650.4 236.0,643.5 237.0,634.4 238.0,624.6 239.0,616.2 240.0,609.2 241.0,602.7 242.0,596.7 243.0,590.9 244.0,585.4 245.0,580.2 246.0,574.9 247.0,569.7 248.0,564.6 249.0,559.6 250.0,554.9 251.0,550.6 252.0,546.9 253.0,543.6 254.0,540.6 255.0,537.8 256.0,535.2 257.0,532.8 258.0,530.8 259.0,529.2 259.4,528.6 260.4,528.2 261.4,527.8 262.4,527.4 263.4,527.1 264.4,526.7 265.4,526.3 266.4,525.9 267.2,525.6 268.2,526.5 269.2,527.4 270.2,528.3 271.2,529.1 272.2,530.0 273.2,530.9 274.2,531.8 275.0,532.5 276.0,534.2 277.0,535.9 278.0,537.7 279.0,539.5 280.0,541.4 281.0,543.4 282.0,545.4 283.0,547.4 284.0,549.5 285.0,551.7 286.0,553.9 287.0,556.3 288.0,558.8 289.0,561.5 290.0,564.4 291.0,567.7 292.0,571.2 293.0,574.7 294.0,578.3 295.0,581.9 296.0,585.5 297.0,589.1 298.0,592.8 299.0,596.6 300.0,600.6 301.0,604.8 302.0,609.5 303.0,614.5 304.0,619.7 305.0,624.6 306.0,629.3 307.0,633.8 308.0,638.2 309.0,642.5 310.0,646.7 311.0,650.9 312.0,655.0 313.0,659.1 314.0,663.0 315.0,666.7 316.0,670.1 317.0,673.4 318.0,676.6 319.0,679.7 320.0,682.9 321.0,686.2 322.0,689.4 323.0,692.5 324.0,695.5 325.0,698.3 326.0,701.0 327.0,703.6 328.0,706.3 329.0,709.2 330.0,712.2 331.0,715.3 332.0,718.0 333.0,720.5 334.0,722.8 335.0,725.0 336.0,727.1 337.0,729.0 338.0,730.8 339.0,732.5 340.0,734.1 341.0,735.6 342.0,737.0 343.0,738.4 344.0,739.6 345.0,740.8 346.0,741.9 347.0,742.9 348.0,743.9 349.0,744.8 350.0,745.5 351.0,746.3 352.0,747.0 353.0,747.6 354.0,748.1 355.0,748.5 356.0,748.8 357.0,749.0 358.0,749.2 359.0,749.3 360.0,749.4 361.0,749.4 362.0,749.2 363.0,749.0 364.0,748.9 365.0,748.8 366.0,748.8 367.0,749.0 368.0,749.2 369.0,749.4 370.0,749.6 371.0,749.8 372.0,750.0 373.0,750.2 374.0,750.3 375.0,750.5 376.0,750.6 377.0,750.8 378.0,750.9 379.0,751.0 380.0,751.0 381.0,751.1 382.0,751.2"/>
<polyline stroke="#000000" points="89.0,760.3 90.0,760.3 91.0,760.3 92.0,760.3 93.0,760.3 94.0,760.3 95.0,760.3 96.0,760.3 97.0,760.3 98.0,760.3 99.0,760.3 100.0,760.3 101.0,760.3 102.0,760.3 103.0,760.3 104.0,760.3 105.0,760.3 106.0,760.3 107.0,760.3 108.0,760.3 109.0,760.3 110.0,760.3 111.0,760.3 112.0,760.3 113.0,760.3 114.0,760.3 115.0,760.3 116.0,760.3 117.0,760.3 118.0,760.3 119.0,760.3 120.0,760.3 121.0,760.3 122.0,760.3 123.0,760.3 124.0,760.3 125.0,760.3 126.0,760.3 127.0,760.3 128.0,760.3 129.0,760.3 130.0,760.3 131.0,760.3 132.0,760.3 133.0,760.3 134.0,760.3 135.0,760.3 136.0,760.3 137.0,760.3 138.0,760.3 139.0,760.3 140.0,760.3 141.0,760.3 142.0,760.3 143.0,760.3 144.0,760.3 145.0,760.3 146.0,760.3 147.0,760.3 148.0,760.3 149.0,760.3 150.0,760.3 151.0,760.3 152.0,760.3 153.0,760.3 154.0,760.3 155.0,760.3 156.0,760.3 157.0,760.3 158.0,760.3 159.0,760.3 160.0,760.3 161.0,760.3 162.0,760.3 163.0,760.3 164.0,760.3 165.0,760.3 166.0,760.3 167.0,760.3 168.0,760.3 169.0,760.3 170.0,760.3 171.0,760.3 172.0,760.3 173.0,760.3 174.0,760.3 175.0,760.3 176.0,760.3 177.0,760.3 178.0,760.3 179.0,760.3 180.0,760.3 181.0,760.3 182.0,760.3 183.0,760.3 184.0,760.3 185.0,760.3 186.0,760.3 187.0,760.3 188.0,760.3 189.0,760.3 190.0,760.3 191.0,760.3 192.0,760.3 193.0,760.3 194.0,760.3 195.0,760.3 196.0,760.3 197.0,760.3 198.0,760.3 199.0,760.3 200.0,760.3 201.0,760.3 202.0,760.3 203.0,760.3 204.0,760.3 205.0,760.3 206.0,760.3 207.0,760.3 208.0,760.3 209.0,760.3 210.0,760.3 211.0,760.3 212.0,760.3 213.0,760.3 214.0,760.3 215.0,760.3 216.0,760.3 217.0,760.3 218.0,760.3 219.0,760.3 220.0,760.3 221.0,760.3 222.0,760.3 223.0,760.3 224.0,760.3 225.0,760.3 226.0,760.3 227.0,760.2 228.0,760.2 229.0,760.1 230.0,760.0 231.0,759.9 232.0,759.7 233.0,759.6 234.0,759.4 235.0,759.2 236.0,759.0 237.0,758.8 238.0,758.6 239.0,758.4 240.0,758.2 241.0,757.9 242.0,757.5 243.0,757.1 244.0,756.6 245.0,756.1 246.0,755.5 247.0,754.9 248.0,754.3 249.0,753.5 250.0,752.6 251.0,751.7 252.0,750.6 253.0,749.6 254.0,748.4 255.0,747.2 256.0,745.8 257.0,744.3 258.0,742.7 259.0,741.0 260.0,739.0 261.0,736.7 262.0,734.3 263.0,731.8 264.0,729.1 265.0,726.4 266.0,723.4 267.0,720.3 268.0,717.1 269.0,713.6 270.0,710.0 271.0,706.1 272.0,701.8 273.0,697.3 274.0,692.7 275.0,688.2 276.0,683.4 277.0,678.6 278.0,673.7 279.0,668.9 280.0,664.2 281.0,659.5 282.0,654.8 283.0,650.1 284.0,645.5 285.0,641.1 286.0,636.8 287.0,632.3 288.0,627.6 289.0,622.7 290.0,617.6 291.0,612.5 292.0,607.3 293.0,602.1 294.0,596.8 295.0,591.4 296.0,585.9 297.0,580.3 298.0,574.6 299.0,568.7 300.0,562.6 301.0,556.6 302.0,551.0 303.0,545.7 304.0,540.8 305.0,536.6 306.0,532.7 307.0,529.3 308.0,527.4 309.0,526.3 310.0,525.6 310.4,525.5 311.4,525.8 312.4,526.6 313.4,527.8 314.4,529.1 315.4,531.3 316.4,534.1 317.4,537.2 318.4,540.4 319.4,544.0 320.4,547.8 321.4,551.9 322.4,556.3 323.4,561.2 324.4,566.2 325.4,571.2 326.4,575.9 327.4,580.5 328.4,585.2 329.4,590.2 330.4,595.7 331.4,601.5 332.4,607.4 333.4,613.3 334.4,619.2 335.4,625.0 336.4,630.3 337.4,635.5 338.4,640.5 339.4,645.5 340.4,650.4 341.4,655.2 342.4,659.9 343.4,664.5 344.4,669.0 345.4,673.4 346.4,677.6 347.4,681.6 348.4,685.4 349.4,689.0 350.4,692.4 351.4,695.5 352.4,698.5 353.4,701.4 354.4,704.0 355.4,706.0 356.4,707.7 357.4,709.2 358.4,710.3 359.4,710.7 360.4,710.7 361.4,710.6 362.4,710.4 363.4,710.3 364.4,709.8 365.4,709.3 366.4,709.1 367.4,709.6 368.4,710.4 369.4,711.3 370.4,712.0 371.4,712.6 372.4,713.3 373.4,713.9 374.4,714.4 375.4,714.8 376.4,715.0 377.4,715.3 378.4,715.6 379.4,715.8 380.4,715.9 381.4,716.0 382.0,716.0"/>
<polyline stroke="#006400" points="89.0,759.7 90.0,759.7 91.0,759.7 92.0,759.7 93.0,759.7 94.0,759.7 95.0,759.7 96.0,759.7 97.0,759.7 98.0,759.7 99.0,759.7 100.0,759.7 101.0,759.7 102.0,759.7 103.0,759.7 104.0,759.7 105.0,759.7 106.0,759.7 107.0,759.7 108.0,759.7 109.0,759.7 110.0,759.7 111.0,759.7 112.0,759.7 113.0,759.7 114.0,759.7 115.0,759.7 116.0,759.7 117.0,759.7 118.0,759.7 119.0,759.7 120.0,759.7 121.0,759.7 122.0,759.7 123.0,759.7 124.0,759.7 125.0,759.7 126.0,759.7 127.0,759.7 128.0,759.7 129.0,759.7 130.0,759.7 131.0,759.7 132.0,759.7 133.0,759.7 134.0,759.7 135.0,759.7 136.0,759.7 137.0,759.7 138.0,759.7 139.0,759.7 140.0,759.7 141.0,759.7 142.0,759.7 143.0,759.7 144.0,759.7 145.0,759.7 146.0,759.7 147.0,759.7 148.0,759.7 149.0,759.7 150.0,759.7 151.0,759.7 152.0,759.7 153.0,759.7 154.0,759.7 155.0,759.7 156.0,759.7 157.0,759.7 158.0,759.7 159.0,759.7 160.0,759.7 161.0,759.7 162.0,759.7 163.0,759.7 164.0,759.7 165.0,759.7 166.0,759.7 167.0,759.7 168.0,759.7 169.0,759.7 170.0,759.7 171.0,759.7 172.0,759.7 173.0,759.7 174.0,759.7 175.0,759.7 176.0,759.7 177.0,759.7 178.0,759.7 179.0,759.7 180.0,759.7 181.0,759.7 182.0,759.7 183.0,759.7 184.0,759.7 185.0,759.7 186.0,759.7 187.0,759.7 188.0,759.7 189.0,759.7 190.0,759.7 191.0,759.7 192.0,759.7 193.0,759.7 194.0,759.7 195.0,759.7 196.0,759.7 197.0,759.7 198.0,759.7 199.0,759.7 200.0,759.7 201.0,759.7 202.0,759.7 203.0,759.7 204.0,759.7 205.0,759.7 206.0,759.7 207.0,759.7 208.0,759.7 209.0,759.7 210.0,759.7 211.0,759.7 212.0,759.7 213.0,759.7 214.0,759.7 215.0,759.7 216.0,759.7 217.0,759.7 218.0,759.7 219.0,759.7 220.0,759.7 221.0,759.7 222.0,759.7 223.0,759.7 224.0,759.7 225.0,759.7 226.0,759.7 227.0,759.7 228.0,759.6 229.0,759.5 230.0,759.4 231.0,759.3 232.0,759.2 233.0,759.0 234.0,758.9 235.0,758.7 236.0,758.5 237.0,758.3 238.0,758.1 239.0,757.9 240.0,757.6 241.0,757.4 242.0,757.1 243.0,756.8 244.0,756.4 245.0,756.0 246.0,755.4 247.0,754.9 248.0,754.2 249.0,753.6 250.0,753.0 251.0,752.2 252.0,751.4 253.0,750.6 254.0,749.6 255.0,748.7 256.0,747.6 257.0,746.6 258.0,745.4 259.0,744.2 260.0,742.9 261.0,741.5 262.0,740.0 263.0,738.3 264.0,736.5 265.0,734.6 266.0,732.7 267.0,730.7 268.0,728.7 269.0,726.7 270.0,724.6 271.0,722.5 272.0,720.3 273.0,718.1 274.0,715.8 275.0,713.4 276.0,711.0 277.0,708.5 278.0,706.0 279.0,703.4 280.0,700.7 281.0,698.0 282.0,695.2 283.0,692.4 284.0,689.5 285.0,686.7 286.0,684.0 287.0,681.3 288.0,678.7 289.0,676.0 290.0,673.3 291.0,670.5 292.0,667.5 293.0,664.3 294.0,661.0 295.0,657.5 296.0,653.9 297.0,650.1 298.0,646.0 299.0,642.0 300.0,638.3 301.0,634.5 302.0,631.2 303.0,628.6 304.0,626.3 305.0,624.4 306.0,622.7 307.0,621.2 308.0,619.9 309.0,618.8 310.0,617.9 311.0,617.2 312.0,616.5 313.0,616.0 314.0,615.6 315.0,615.3 316.0,615.1 317.0,615.0 318.0,614.8 319.0,614.7 320.0,614.7 321.0,614.7 322.0,614.8 323.0,615.0 324.0,615.1 325.0,615.3 326.0,615.5 327.0,615.8 328.0,616.2 329.0,616.6 330.0,617.1 331.0,617.5 332.0,617.9 333.0,618.4 334.0,618.8 335.0,619.3 336.0,619.7 337.0,620.1 338.0,620.5 339.0,620.9 340.0,621.3 341.0,621.7 342.0,622.0 343.0,622.2 344.0,622.3 345.0,622.4 346.0,622.5 347.0,622.5 348.0,622.1 349.0,621.2 350.0,620.1 351.0,618.8 352.0,617.3 353.0,615.3 354.0,612.9 355.0,609.8 356.0,605.5 357.0,600.2 358.0,594.1 359.0,587.0 360.0,577.9 361.0,568.6 362.0,559.7 363.0,550.8 364.0,542.7 365.0,535.4 366.0,529.2 367.0,526.8 368.0,525.8 369.0,525.8 370.0,527.0 371.0,528.6 372.0,530.2 373.0,532.1 374.0,533.9 375.0,535.5 376.0,537.0 377.0,538.4 378.0,539.6 379.0,540.4 380.0,541.1 381.0,541.6 382.0,541.9"/>
<polyline stroke="#a0522d" points="89.0,760.4 90.0,760.4 91.0,760.4 92.0,760.4 93.0,760.4 94.0,760.4 95.0,760.4 96.0,760.4 97.0,760.4 98.0,760.4 99.0,760.4 100.0,760.4 101.0,760.4 102.0,760.4 103.0,760.4 104.0,760.4 105.0,760.4 106.0,760.4 107.0,760.4 108.0,760.4 109.0,760.4 110.0,760.4 111.0,760.4 112.0,760.4 113.0,760.4 114.0,760.4 115.0,760.4 116.0,760.4 117.0,760.4 118.0,760.4 119.0,760.4 120.0,760.4 121.0,760.4 122.0,760.4 123.0,760.4 124.0,760.4 125.0,760.4 126.0,760.4 127.0,760.4 128.0,760.4 129.0,760.4 130.0,760.4 131.0,760.4 132.0,760.4 133.0,760.4 134.0,760.4 135.0,760.4 136.0,760.4 137.0,760.4 138.0,760.4 139.0,760.4 140.0,760.4 141.0,760.4 142.0,760.4 143.0,760.4 144.0,760.4 145.0,760.4 146.0,760.4 147.0,760.4 148.0,760.4 149.0,760.4 150.0,760.4 151.0,760.4 152.0,760.4 153.0,760.4 154.0,760.4 155.0,760.4 156.0,760.4 157.0,760.4 158.0,760.4 159.0,760.4 160.0,760.4 161.0,760.4 162.0,760.4 163.0,760.4 164.0,760.4 165.0,760.4 166.0,760.4 167.0,760.4 168.0,760.4 169.0,760.4 170.0,760.4 171.0,760.4 172.0,760.4 173.0,760.4 174.0,760.4 175.0,760.4 176.0,760.4 177.0,760.4 178.0,760.4 179.0,760.4 180.0,760.4 181.0,760.4 182.0,760.4 183.0,760.4 184.0,760.4 185.0,760.4 186.0,760.4 187.0,760.4 188.0,760.4 189.0,760.4 190.0,760.4 191.0,760.4 192.0,760.4 193.0,760.3 194.0,760.3 195.0,760.3 196.0,760.3 197.0,760.3 198.0,760.3 199.0,760.3 200.0,760.3 201.0,760.3 202.0,760.3 203.0,760.3 204.0,760.3 205.0,760.3 206.0,760.3 207.0,760.3 208.0,760.3 209.0,760.3 210.0,760.3 211.0,760.3 212.0,760.3 213.0,760.3 214.0,760.3 215.0,760.3 216.0,760.3 217.0,760.3 218.0,760.3 219.0,760.3 220.0,760.3 221.0,760.3 222.0,760.3 223.0,760.3 224.0,760.3 225.0,760.3 226.0,760.3 227.0,760.3 228.0,760.3 229.0,760.3 230.0,760.3 231.0,760.3 232.0,760.3 233.0,760.3 234.0,760.3 235.0,760.3 236.0,760.3 237.0,760.3 238.0,760.3 239.0,760.3 240.0,760.3 241.0,760.3 242.0,760.3 243.0,760.2 244.0,760.2 245.0,760.2 246.0,760.2 247.0,760.2 248.0,760.2 249.0,760.2 250.0,760.2 251.0,760.2 252.0,760.2 253.0,760.2 254.0,760.2 255.0,760.2 256.0,760.2 257.0,760.2 258.0,760.2 259.0,760.2 260.0,760.2 261.0,760.1 262.0,760.1 263.0,759.9 264.0,759.8 265.0,759.6 266.0,759.5 267.0,759.3 268.0,759.1 269.0,758.8 270.0,758.6 271.0,758.3 272.0,758.0 273.0,757.6 274.0,757.2 275.0,756.8 276.0,756.3 277.0,755.8 278.0,755.2 279.0,754.5 280.0,753.8 281.0,752.9 282.0,752.0 283.0,751.1 284.0,750.1 285.0,749.0 286.0,747.8 287.0,746.6 288.0,745.3 289.0,743.8 290.0,742.3 291.0,740.6 292.0,738.7 293.0,736.7 294.0,734.5 295.0,732.1 296.0,729.4 297.0,726.6 298.0,723.8 299.0,721.0 300.0,718.3 301.0,715.4 302.0,712.0 303.0,708.5 304.0,704.9 305.0,701.6 306.0,698.5 307.0,695.5 308.0,692.5 309.0,689.6 310.0,686.6 311.0,683.7 312.0,680.8 313.0,678.0 314.0,675.2 315.0,672.5 316.0,669.8 317.0,667.1 318.0,664.5 319.0,662.0 320.0,659.6 321.0,657.4 322.0,655.3 323.0,653.2 324.0,651.3 325.0,649.5 326.0,647.8 327.0,646.1 328.0,644.6 329.0,643.1 330.0,641.7 331.0,640.3 332.0,639.0 333.0,637.8 334.0,636.6 335.0,635.5 336.0,634.4 337.0,633.3 338.0,632.3 339.0,631.4 340.0,630.5 341.0,629.6 342.0,628.8 343.0,627.9 344.0,627.0 345.0,626.1 346.0,625.1 347.0,624.1 348.0,622.9 349.0,621.7 350.0,620.3 351.0,618.5 352.0,616.4 353.0,613.9 354.0,611.0 355.0,607.8 356.0,603.9 357.0,599.3 358.0,594.0 359.0,587.1 360.0,578.0 361.0,568.5 362.0,559.8 363.0,551.1 364.0,543.5 365.0,537.5 366.0,532.2 367.0,528.8 368.0,527.2 369.0,526.0 370.0,525.6 371.0,525.6 372.0,525.7 373.0,525.8 374.0,526.0 375.0,526.1 376.0,526.2 377.0,526.3 378.0,526.4 379.0,526.5 380.0,526.6 381.0,526.7 382.0,526.8"/>
</g>
<line x1="195.30" y1="760.00" x2="195.30" y2="526.30" stroke="#ff0000" stroke-width="1.55" stroke-linecap="round" stroke-dasharray="7.1 8.97"/>
<line x1="238.30" y1="760.00" x2="238.30" y2="526.30" stroke="#ff0000" stroke-width="1.55" stroke-linecap="round" stroke-dasharray="7.1 8.97"/>
<line x1="259.80" y1="760.00" x2="259.80" y2="526.30" stroke="#ff0000" stroke-width="1.55" stroke-linecap="round" stroke-dasharray="7.1 8.97"/>
<line x1="299.70" y1="760.00" x2="299.70" y2="526.30" stroke="#ff0000" stroke-width="1.55" stroke-linecap="round" stroke-dasharray="7.1 8.97"/>
<g transform="translate(201.10 508.80) rotate(-90)"><text x="0.00" y="0.00" font-size="12.00" fill="#ff0000" font-weight="normal" text-anchor="start" letter-spacing="0.60" stroke="#ff0000" stroke-width="0.25">10</text><text x="14.20" y="-4.60" font-size="8.20" fill="#ff0000" font-weight="bold" text-anchor="start" letter-spacing="0.30">−4</text></g>
<g transform="translate(244.10 508.80) rotate(-90)"><text x="0.00" y="0.00" font-size="12.00" fill="#ff0000" font-weight="normal" text-anchor="start" letter-spacing="0.60" stroke="#ff0000" stroke-width="0.25">10</text><text x="14.20" y="-4.60" font-size="8.20" fill="#ff0000" font-weight="bold" text-anchor="start" letter-spacing="0.30">−3</text></g>
<g transform="translate(265.60 508.80) rotate(-90)"><text x="0.00" y="0.00" font-size="12.00" fill="#ff0000" font-weight="normal" text-anchor="start" letter-spacing="0.60" stroke="#ff0000" stroke-width="0.25">10</text><text x="14.20" y="-4.60" font-size="8.20" fill="#ff0000" font-weight="bold" text-anchor="start" letter-spacing="0.30">−2</text></g>
<g transform="translate(306.00 506.90) rotate(-90)"><text x="0.00" y="0.00" font-size="12.00" fill="#ff0000" font-weight="normal" text-anchor="start" letter-spacing="0.50" stroke="#ff0000" stroke-width="0.25">0.1</text></g>
<text x="100.70" y="502.00" font-size="11.00" fill="#ff0000" font-weight="normal" text-anchor="start" stroke="#ff0000" stroke-width="0.35">f</text>
<text x="104.60" y="502.50" font-size="13.50" fill="#ff0000" font-weight="normal" text-anchor="start" stroke="#ff0000" stroke-width="0.35">(</text>
<text x="109.50" y="502.00" font-size="10.80" fill="#ff0000" font-weight="normal" text-anchor="start" stroke="#ff0000" stroke-width="0.35">H</text>
<text x="118.00" y="505.70" font-size="8.20" fill="#ff0000" font-weight="bold" text-anchor="start" stroke="#ff0000" stroke-width="0.3">2</text>
<text x="123.50" y="502.50" font-size="13.50" fill="#ff0000" font-weight="normal" text-anchor="start" stroke="#ff0000" stroke-width="0.35">)</text>
<line x1="135.40" y1="497.20" x2="142.80" y2="497.20" stroke="#ff0000" stroke-width="1.40"/>
<line x1="135.40" y1="500.20" x2="142.80" y2="500.20" stroke="#ff0000" stroke-width="1.40"/>
<text x="100.10" y="466.80" font-size="16.40" fill="#0000ff" font-weight="normal" text-anchor="start" letter-spacing="0.50" stroke="#0000ff" stroke-width="0.75" stroke-linejoin="round">ArH</text>
<text x="130.80" y="459.20" font-size="12.50" fill="#0000ff" font-weight="bold" text-anchor="start" stroke="#0000ff" stroke-width="0.5">+</text>
<text x="156.30" y="466.80" font-size="16.40" fill="#ff00ff" font-weight="normal" text-anchor="start" letter-spacing="0.70" stroke="#ff00ff" stroke-width="0.75" stroke-linejoin="round">HCl</text>
<text x="185.90" y="459.20" font-size="12.50" fill="#ff00ff" font-weight="bold" text-anchor="start" stroke="#ff00ff" stroke-width="0.5">+</text>
<text x="212.50" y="466.80" font-size="16.40" fill="#000" font-weight="normal" text-anchor="start" letter-spacing="0.50" stroke="#000" stroke-width="0.75" stroke-linejoin="round">H</text>
<text x="224.70" y="471.70" font-size="12.00" fill="#000" font-weight="bold" text-anchor="start" stroke="#000" stroke-width="0.3">2</text>
<text x="232.60" y="466.80" font-size="16.40" fill="#000" font-weight="normal" text-anchor="start" letter-spacing="0.20" stroke="#000" stroke-width="0.75" stroke-linejoin="round">Cl</text>
<text x="249.30" y="459.20" font-size="12.50" fill="#000" font-weight="bold" text-anchor="start" stroke="#000" stroke-width="0.5">+</text>
<text x="268.60" y="466.80" font-size="16.40" fill="#006400" font-weight="normal" text-anchor="start" letter-spacing="0.30" stroke="#006400" stroke-width="0.75" stroke-linejoin="round">OH</text>
<text x="294.70" y="459.20" font-size="12.50" fill="#006400" font-weight="bold" text-anchor="start" stroke="#006400" stroke-width="0.5">+</text>
<text x="325.50" y="466.80" font-size="16.40" fill="#a0522d" font-weight="normal" text-anchor="start" letter-spacing="0.50" stroke="#a0522d" stroke-width="0.75" stroke-linejoin="round">H</text>
<text x="337.50" y="471.70" font-size="12.00" fill="#a0522d" font-weight="bold" text-anchor="start" stroke="#a0522d" stroke-width="0.3">2</text>
<text x="344.30" y="466.80" font-size="16.40" fill="#a0522d" font-weight="normal" text-anchor="start" letter-spacing="0.50" stroke="#a0522d" stroke-width="0.75" stroke-linejoin="round">O</text>
<text x="358.60" y="459.20" font-size="12.50" fill="#a0522d" font-weight="bold" text-anchor="start" stroke="#a0522d" stroke-width="0.5">+</text>
<text x="84.60" y="428.90" font-size="18.80" fill="#000" font-weight="normal" text-anchor="start" font-style="italic">χ</text>
<text x="95.70" y="432.50" font-size="10.20" fill="#000" font-weight="normal" text-anchor="start" stroke="#000" stroke-width="0.22">UV</text>
<line x1="111.90" y1="432.50" x2="122.40" y2="413.60" stroke="#000" stroke-width="1.30"/>
<text x="123.60" y="428.15" font-size="17.30" fill="#000" font-weight="normal" text-anchor="start">n</text>
<text x="134.50" y="433.10" font-size="11.20" fill="#000" font-weight="normal" text-anchor="start" textLength="15.0" lengthAdjust="spacingAndGlyphs" stroke="#000" stroke-width="0.22">50</text>
<line x1="160.60" y1="420.85" x2="171.80" y2="420.85" stroke="#000" stroke-width="1.30"/>
<line x1="160.60" y1="425.15" x2="171.80" y2="425.15" stroke="#000" stroke-width="1.30"/>
<text x="184.20" y="428.15" font-size="18.00" fill="#000" font-weight="normal" text-anchor="start">1</text>
<text x="195.30" y="428.15" font-size="17.00" fill="#000" font-weight="normal" text-anchor="start">,</text>
<text x="229.20" y="429.15" font-size="19.80" fill="#000" font-weight="normal" text-anchor="start">ζ</text>
<text x="240.00" y="432.10" font-size="10.40" fill="#000" font-weight="normal" text-anchor="start" stroke="#000" stroke-width="0.22">p</text>
<text x="246.70" y="428.75" font-size="20.50" fill="#000" font-weight="normal" text-anchor="start">(</text>
<text x="253.90" y="428.15" font-size="17.00" fill="#000" font-weight="normal" text-anchor="start" textLength="13.5" lengthAdjust="spacingAndGlyphs">H</text>
<text x="268.10" y="428.75" font-size="20.50" fill="#000" font-weight="normal" text-anchor="start">)</text>
<text x="276.80" y="433.00" font-size="11.20" fill="#000" font-weight="normal" text-anchor="start" textLength="8.2" lengthAdjust="spacingAndGlyphs" stroke="#000" stroke-width="0.22">−</text>
<text x="286.90" y="433.00" font-size="11.20" fill="#000" font-weight="normal" text-anchor="start" stroke="#000" stroke-width="0.22">1</text>
<text x="292.60" y="433.00" font-size="11.20" fill="#000" font-weight="normal" text-anchor="start" textLength="7.6" lengthAdjust="spacingAndGlyphs" stroke="#000" stroke-width="0.22">6</text>
<line x1="299.50" y1="433.10" x2="310.50" y2="413.20" stroke="#000" stroke-width="1.30"/>
<text x="312.40" y="428.15" font-size="17.30" fill="#000" font-weight="normal" text-anchor="start">n</text>
<text x="323.20" y="433.10" font-size="11.20" fill="#000" font-weight="normal" text-anchor="start" textLength="15.0" lengthAdjust="spacingAndGlyphs" stroke="#000" stroke-width="0.22">50</text>
<line x1="349.10" y1="420.85" x2="360.10" y2="420.85" stroke="#000" stroke-width="1.30"/>
<line x1="349.10" y1="425.15" x2="360.10" y2="425.15" stroke="#000" stroke-width="1.30"/>
<text x="362.90" y="428.15" font-size="18.00" fill="#000" font-weight="normal" text-anchor="start" textLength="21.8" lengthAdjust="spacingAndGlyphs">20</text>
<text x="101.23" y="782.70" font-size="16.30" fill="#000" font-weight="normal" text-anchor="middle" letter-spacing="1.20">−5</text>
<text x="157.38" y="782.70" font-size="16.30" fill="#000" font-weight="normal" text-anchor="middle" letter-spacing="1.20">−4</text>
<text x="213.54" y="782.70" font-size="16.30" fill="#000" font-weight="normal" text-anchor="middle" letter-spacing="1.20">−3</text>
<text x="269.69" y="782.70" font-size="16.30" fill="#000" font-weight="normal" text-anchor="middle" letter-spacing="1.20">−2</text>
<text x="325.85" y="782.70" font-size="16.30" fill="#000" font-weight="normal" text-anchor="middle" letter-spacing="1.20">−1</text>
<text x="382.00" y="782.70" font-size="16.30" fill="#000" font-weight="normal" text-anchor="middle" letter-spacing="1.20">0</text>
<text x="85.10" y="761.90" font-size="16.30" fill="#000" font-weight="normal" text-anchor="end" letter-spacing="0.45">0.0</text>
<text x="85.10" y="719.64" font-size="16.30" fill="#000" font-weight="normal" text-anchor="end" letter-spacing="0.45">0.2</text>
<text x="85.10" y="672.68" font-size="16.30" fill="#000" font-weight="normal" text-anchor="end" letter-spacing="0.45">0.4</text>
<text x="85.10" y="625.72" font-size="16.30" fill="#000" font-weight="normal" text-anchor="end" letter-spacing="0.45">0.6</text>
<text x="85.10" y="578.76" font-size="16.30" fill="#000" font-weight="normal" text-anchor="end" letter-spacing="0.45">0.8</text>
<text x="85.10" y="531.80" font-size="16.30" fill="#000" font-weight="normal" text-anchor="end" letter-spacing="0.45">1.0</text>
<text x="85.10" y="484.85" font-size="16.30" fill="#000" font-weight="normal" text-anchor="end" letter-spacing="0.45">1.2</text>
<text x="208.20" y="801.10" font-size="15.20" fill="#000" font-weight="normal" text-anchor="start" letter-spacing="0.60">log</text>
<text x="230.30" y="804.30" font-size="10.20" fill="#000" font-weight="normal" text-anchor="start" stroke="#000" stroke-width="0.22">10</text>
<text x="248.40" y="801.10" font-size="15.20" fill="#000" font-weight="normal" text-anchor="start">A</text>
<text x="257.40" y="804.30" font-size="9.60" fill="#000" font-weight="normal" text-anchor="start" stroke="#000" stroke-width="0.22">V</text>
<g transform="translate(48.90 656.50) rotate(-90)"><text x="0.00" y="0.00" font-size="16.60" fill="#000" font-weight="normal" text-anchor="start" textLength="30.3" lengthAdjust="spacingAndGlyphs">n(X)</text><line x1="31.40" y1="3.20" x2="47.20" y2="-12.80" stroke="#000" stroke-width="1.30"/><text x="48.20" y="0.00" font-size="16.60" fill="#000" font-weight="normal" text-anchor="start" textLength="67.6" lengthAdjust="spacingAndGlyphs">max[n(X)]</text></g>
</g>
<g id="panel4">
<g stroke="#000" stroke-width="1" fill="none" shape-rendering="auto" opacity="0.62">
<rect x="497.80" y="436.50" width="292.65" height="323.90"/>
<path d="M497.80 760.40v-3.20M497.80 436.50v3.20M503.43 760.40v-3.20M503.43 436.50v3.20M509.06 760.40v-6.30M509.06 436.50v6.30M514.68 760.40v-3.20M514.68 436.50v3.20M520.31 760.40v-3.20M520.31 436.50v3.20M525.94 760.40v-3.20M525.94 436.50v3.20M531.57 760.40v-3.20M531.57 436.50v3.20M537.20 760.40v-3.20M537.20 436.50v3.20M542.82 760.40v-3.20M542.82 436.50v3.20M548.45 760.40v-3.20M548.45 436.50v3.20M554.08 760.40v-3.20M554.08 436.50v3.20M559.71 760.40v-3.20M559.71 436.50v3.20M565.33 760.40v-6.30M565.33 436.50v6.30M570.96 760.40v-3.20M570.96 436.50v3.20M576.59 760.40v-3.20M576.59 436.50v3.20M582.22 760.40v-3.20M582.22 436.50v3.20M587.85 760.40v-3.20M587.85 436.50v3.20M593.47 760.40v-3.20M593.47 436.50v3.20M599.10 760.40v-3.20M599.10 436.50v3.20M604.73 760.40v-3.20M604.73 436.50v3.20M610.36 760.40v-3.20M610.36 436.50v3.20M615.99 760.40v-3.20M615.99 436.50v3.20M621.61 760.40v-6.30M621.61 436.50v6.30M627.24 760.40v-3.20M627.24 436.50v3.20M632.87 760.40v-3.20M632.87 436.50v3.20M638.50 760.40v-3.20M638.50 436.50v3.20M644.12 760.40v-3.20M644.12 436.50v3.20M649.75 760.40v-3.20M649.75 436.50v3.20M655.38 760.40v-3.20M655.38 436.50v3.20M661.01 760.40v-3.20M661.01 436.50v3.20M666.64 760.40v-3.20M666.64 436.50v3.20M672.26 760.40v-3.20M672.26 436.50v3.20M677.89 760.40v-6.30M677.89 436.50v6.30M683.52 760.40v-3.20M683.52 436.50v3.20M689.15 760.40v-3.20M689.15 436.50v3.20M694.78 760.40v-3.20M694.78 436.50v3.20M700.40 760.40v-3.20M700.40 436.50v3.20M706.03 760.40v-3.20M706.03 436.50v3.20M711.66 760.40v-3.20M711.66 436.50v3.20M717.29 760.40v-3.20M717.29 436.50v3.20M722.92 760.40v-3.20M722.92 436.50v3.20M728.54 760.40v-3.20M728.54 436.50v3.20M734.17 760.40v-6.30M734.17 436.50v6.30M739.80 760.40v-3.20M739.80 436.50v3.20M745.43 760.40v-3.20M745.43 436.50v3.20M751.05 760.40v-3.20M751.05 436.50v3.20M756.68 760.40v-3.20M756.68 436.50v3.20M762.31 760.40v-3.20M762.31 436.50v3.20M767.94 760.40v-3.20M767.94 436.50v3.20M773.57 760.40v-3.20M773.57 436.50v3.20M779.19 760.40v-3.20M779.19 436.50v3.20M784.82 760.40v-3.20M784.82 436.50v3.20M790.45 760.40v-6.30M790.45 436.50v6.30M497.80 760.40h5.80M790.45 760.40h-5.80M497.80 748.66h2.90M790.45 748.66h-2.90M497.80 736.92h2.90M790.45 736.92h-2.90M497.80 725.18h2.90M790.45 725.18h-2.90M497.80 713.44h5.80M790.45 713.44h-5.80M497.80 701.70h2.90M790.45 701.70h-2.90M497.80 689.96h2.90M790.45 689.96h-2.90M497.80 678.22h2.90M790.45 678.22h-2.90M497.80 666.48h5.80M790.45 666.48h-5.80M497.80 654.74h2.90M790.45 654.74h-2.90M497.80 643.00h2.90M790.45 643.00h-2.90M497.80 631.26h2.90M790.45 631.26h-2.90M497.80 619.52h5.80M790.45 619.52h-5.80M497.80 607.78h2.90M790.45 607.78h-2.90M497.80 596.04h2.90M790.45 596.04h-2.90M497.80 584.30h2.90M790.45 584.30h-2.90M497.80 572.56h5.80M790.45 572.56h-5.80M497.80 560.82h2.90M790.45 560.82h-2.90M497.80 549.08h2.90M790.45 549.08h-2.90M497.80 537.34h2.90M790.45 537.34h-2.90M497.80 525.60h5.80M790.45 525.60h-5.80M497.80 513.87h2.90M790.45 513.87h-2.90M497.80 502.13h2.90M790.45 502.13h-2.90M497.80 490.39h2.90M790.45 490.39h-2.90M497.80 478.65h5.80M790.45 478.65h-5.80M497.80 466.91h2.90M790.45 466.91h-2.90M497.80 455.17h2.90M790.45 455.17h-2.90M497.80 443.43h2.90M790.45 443.43h-2.90"/>
</g>
<clipPath id="clip4"><rect x="497.30" y="436.50" width="293.65" height="325.90"/></clipPath>
<g clip-path="url(#clip4)" fill="none" stroke-width="2.9" stroke-linejoin="round" stroke-linecap="butt">
<polyline stroke="#0000ff" points="497.4,696.6 498.4,696.6 499.4,696.6 500.4,696.6 501.4,696.6 502.4,696.6 503.4,696.6 504.4,696.6 505.4,696.6 506.4,696.5 507.4,696.5 508.4,696.5 509.4,696.5 510.4,696.5 511.4,696.5 512.4,696.5 513.4,696.5 514.4,696.5 515.4,696.5 516.4,696.4 517.4,696.4 518.4,696.4 519.4,696.4 520.4,696.4 521.4,696.4 522.4,696.4 523.4,696.4 524.4,696.3 525.4,696.3 526.4,696.3 527.4,696.3 528.4,696.3 529.4,696.3 530.4,696.3 531.4,696.2 532.4,696.2 533.4,696.2 534.4,696.2 535.4,696.2 536.4,696.2 537.4,696.1 538.4,696.1 539.4,696.1 540.4,696.1 541.4,696.1 542.4,696.1 543.4,696.0 544.4,696.0 545.4,696.0 546.4,696.0 547.4,695.9 548.4,695.9 549.4,695.9 550.4,695.9 551.4,695.8 552.4,695.8 553.4,695.8 554.4,695.8 555.4,695.7 556.4,695.7 557.4,695.7 558.4,695.6 559.4,695.6 560.4,695.6 561.4,695.5 562.4,695.5 563.4,695.5 564.4,695.4 565.4,695.4 566.4,695.3 567.4,695.3 568.4,695.2 569.4,695.2 570.4,695.1 571.4,695.1 572.4,695.0 573.4,695.0 574.4,694.9 575.4,694.9 576.4,694.8 577.4,694.7 578.4,694.7 579.4,694.6 580.4,694.5 581.4,694.4 582.4,694.4 583.4,694.3 584.4,694.2 585.4,694.1 586.4,694.0 587.4,693.9 588.4,693.8 589.4,693.7 590.4,693.5 591.4,693.4 592.4,693.3 593.4,693.2 594.4,693.0 595.4,692.9 596.4,692.8 597.4,692.6 598.4,692.5 599.4,692.3 600.4,692.1 601.4,691.9 602.4,691.8 603.4,691.6 604.4,691.4 605.4,691.2 606.4,690.9 607.4,690.7 608.4,690.5 609.4,690.3 610.4,690.0 611.4,689.8 612.4,689.5 613.4,689.3 614.4,689.0 615.4,688.8 616.4,688.5 617.4,688.2 618.4,687.9 619.4,687.6 620.4,687.3 621.4,687.0 622.4,686.6 623.4,686.3 624.4,685.9 625.4,685.5 626.4,685.1 627.4,684.7 628.4,684.2 629.4,683.7 630.4,683.2 631.4,682.6 632.4,682.1 633.4,681.5 634.4,680.8 635.4,680.2 636.4,679.5 637.4,678.8 638.4,678.1 639.4,677.4 640.4,676.6 641.4,675.7 642.4,674.8 643.4,673.9 644.4,672.9 645.4,672.0 646.4,671.0 647.4,669.9 648.4,668.9 649.4,667.8 650.4,666.7 651.4,665.6 652.4,664.4 653.4,663.1 654.4,661.7 655.4,660.3 656.4,658.7 657.4,656.9 658.4,654.9 659.4,652.7 660.4,650.3 661.4,647.7 662.4,644.8 663.4,641.4 664.4,637.7 665.4,633.7 666.4,629.4 667.4,625.0 668.4,620.2 669.4,615.0 670.4,609.3 671.4,603.4 672.4,597.3 673.4,591.1 674.4,584.7 675.4,577.9 676.4,570.7 677.4,562.9 678.4,555.2 679.4,547.9 680.4,541.3 681.4,535.0 682.4,529.2 683.4,528.7 684.4,528.3 685.4,527.8 686.4,527.4 687.4,526.9 688.4,526.4 689.4,526.0 690.2,525.6 691.2,530.4 692.2,535.7 693.2,541.3 694.2,547.2 695.2,553.4 696.2,560.1 697.2,567.6 698.2,576.4 699.2,586.2 700.2,596.2 701.2,606.7 702.2,617.5 703.2,628.1 704.2,638.9 705.2,649.3 706.2,658.5 707.2,666.5 708.2,674.0 709.2,681.6 710.2,689.2 711.2,696.6 712.2,703.3 713.2,710.0 714.2,716.2 715.2,721.6 716.2,726.1 717.2,730.0 718.2,733.5 719.2,736.5 720.2,739.1 721.2,741.4 722.2,743.5 723.2,745.4 724.2,747.0 725.2,748.3 726.2,749.5 727.2,750.7 728.2,751.7 729.2,752.5 730.2,753.3 731.2,753.9 732.2,754.5 733.2,755.0 734.2,755.5 735.2,755.9 736.2,756.2 737.2,756.6 738.2,756.8 739.2,757.1 740.2,757.3 741.2,757.5 742.2,757.7 743.2,757.9 744.2,758.1 745.2,758.2 746.2,758.4 747.2,758.5 748.2,758.6 749.2,758.7 750.2,758.8 751.2,758.9 752.2,758.9 753.2,759.0 754.2,759.0 755.2,759.0 756.2,759.1 757.2,759.1 758.2,759.1 759.2,759.2 760.2,759.2 761.2,759.2 762.2,759.2 763.2,759.3 764.2,759.3 765.2,759.3 766.2,759.3 767.2,759.3 768.2,759.3 769.2,759.3 770.2,759.3 771.2,759.3 772.2,759.3 773.2,759.3 774.2,759.3 775.2,759.3 776.2,759.3 777.2,759.3 778.2,759.3 779.2,759.3 780.2,759.3 781.2,759.3 782.2,759.3 783.2,759.2 784.2,759.2 785.2,759.2 786.2,759.2 787.2,759.2 788.2,759.2 789.2,759.1 790.2,759.1 791.0,759.1"/>
<polyline stroke="#ff00ff" points="497.4,758.0 498.4,758.0 499.4,758.0 500.4,758.0 501.4,758.0 502.4,758.0 503.4,758.0 504.4,758.0 505.4,758.0 506.4,758.0 507.4,758.0 508.4,758.0 509.4,758.0 510.4,758.0 511.4,758.0 512.4,758.0 513.4,758.0 514.4,758.0 515.4,758.0 516.4,758.0 517.4,758.0 518.4,758.0 519.4,758.0 520.4,758.0 521.4,758.0 522.4,758.0 523.4,758.0 524.4,758.0 525.4,758.0 526.4,758.0 527.4,758.0 528.4,758.0 529.4,758.0 530.4,758.0 531.4,758.0 532.4,758.0 533.4,758.0 534.4,758.0 535.4,758.0 536.4,758.0 537.4,758.0 538.4,758.0 539.4,758.0 540.4,758.0 541.4,758.0 542.4,758.0 543.4,758.0 544.4,758.0 545.4,758.0 546.4,758.0 547.4,758.0 548.4,758.0 549.4,758.0 550.4,758.0 551.4,758.0 552.4,758.0 553.4,758.0 554.4,758.0 555.4,758.0 556.4,758.0 557.4,758.0 558.4,758.0 559.4,758.0 560.4,758.0 561.4,758.0 562.4,758.0 563.4,758.0 564.4,758.0 565.4,758.0 566.4,758.0 567.4,758.0 568.4,758.0 569.4,758.0 570.4,758.0 571.4,758.0 572.4,758.0 573.4,758.0 574.4,758.0 575.4,758.0 576.4,758.0 577.4,758.0 578.4,758.0 579.4,758.0 580.4,758.0 581.4,758.0 582.4,758.0 583.4,758.0 584.4,758.0 585.4,758.0 586.4,758.0 587.4,758.0 588.4,758.0 589.4,758.0 590.4,758.0 591.4,758.0 592.4,758.0 593.4,758.0 594.4,758.0 595.4,758.0 596.4,758.0 597.4,758.0 598.4,758.0 599.4,758.0 600.4,758.0 601.4,758.0 602.4,758.0 603.4,758.0 604.4,758.0 605.4,758.0 606.4,758.0 607.4,758.0 608.4,758.0 609.4,758.0 610.4,758.0 611.4,758.0 612.4,758.0 613.4,758.0 614.4,758.0 615.4,758.0 616.4,758.0 617.4,758.0 618.4,758.0 619.4,758.0 620.4,758.0 621.4,758.0 622.4,758.0 623.4,758.0 624.4,758.0 625.4,758.0 626.4,758.0 627.4,758.0 628.4,757.9 629.4,757.9 630.4,757.9 631.4,757.9 632.4,757.9 633.4,757.9 634.4,757.9 635.4,757.8 636.4,757.8 637.4,757.8 638.4,757.8 639.4,757.8 640.4,757.7 641.4,757.7 642.4,757.7 643.4,757.7 644.4,757.6 645.4,757.6 646.4,757.6 647.4,757.6 648.4,757.5 649.4,757.5 650.4,757.5 651.4,757.5 652.4,757.4 653.4,757.4 654.4,757.4 655.4,757.3 656.4,757.3 657.4,757.2 658.4,757.2 659.4,757.1 660.4,757.0 661.4,756.9 662.4,756.8 663.4,756.7 664.4,756.5 665.4,756.2 666.4,756.0 667.4,755.7 668.4,755.4 669.4,755.0 670.4,754.7 671.4,754.3 672.4,753.9 673.4,753.5 674.4,752.9 675.4,752.4 676.4,751.7 677.4,750.8 678.4,749.8 679.4,748.7 680.4,747.5 681.4,746.2 682.4,744.6 683.4,742.8 684.4,740.9 685.4,738.9 686.4,736.9 687.4,735.1 688.4,733.2 689.4,731.1 690.4,728.6 691.4,725.3 692.4,721.5 693.4,717.1 694.4,712.3 695.4,706.7 696.4,700.3 697.4,693.1 698.4,684.6 699.4,675.3 700.4,666.2 701.4,657.2 702.4,647.4 703.4,635.8 704.4,621.2 705.4,606.2 706.4,593.9 707.4,584.1 708.4,575.4 709.4,567.1 710.4,558.7 711.4,550.3 712.4,542.8 713.4,536.8 714.4,531.7 715.4,527.4 715.7,526.4 716.7,526.1 717.7,525.9 718.7,525.6 718.9,525.6 719.9,528.5 720.9,531.9 721.9,535.8 722.9,540.0 723.9,545.0 724.9,550.4 725.9,555.9 726.9,561.7 727.9,567.8 728.9,574.1 729.9,580.8 730.9,587.8 731.9,594.7 732.9,601.5 733.9,608.2 734.9,614.4 735.9,620.0 736.9,625.4 737.9,630.7 738.9,635.8 739.9,640.9 740.9,646.1 741.9,651.6 742.9,657.1 743.9,662.7 744.9,668.2 745.9,673.4 746.9,678.5 747.9,683.5 748.9,688.3 749.9,693.0 750.9,697.6 751.9,702.0 752.9,706.3 753.9,710.6 754.9,714.8 755.9,718.8 756.9,722.3 757.9,725.4 758.9,728.3 759.9,731.1 760.9,733.6 761.9,736.0 762.9,738.3 763.9,740.5 764.9,742.5 765.9,744.3 766.9,745.9 767.9,747.4 768.9,748.9 769.9,750.1 770.9,751.1 771.9,751.6 772.9,752.1 773.9,752.5 774.9,752.8 775.9,752.9 776.9,752.8 777.9,752.4 778.9,751.8 779.9,751.3 780.9,751.0 781.9,751.0 782.9,751.0 783.9,751.1 784.9,751.2 785.9,751.3 786.9,751.5 787.9,751.7 788.9,751.9 789.9,752.1 790.9,752.4 791.0,752.4"/>
<polyline stroke="#000000" points="497.4,760.2 498.4,760.2 499.4,760.2 500.4,760.2 501.4,760.2 502.4,760.2 503.4,760.2 504.4,760.2 505.4,760.2 506.4,760.2 507.4,760.2 508.4,760.2 509.4,760.2 510.4,760.2 511.4,760.2 512.4,760.2 513.4,760.2 514.4,760.2 515.4,760.2 516.4,760.2 517.4,760.2 518.4,760.2 519.4,760.2 520.4,760.2 521.4,760.2 522.4,760.2 523.4,760.2 524.4,760.2 525.4,760.2 526.4,760.2 527.4,760.2 528.4,760.2 529.4,760.2 530.4,760.2 531.4,760.2 532.4,760.2 533.4,760.2 534.4,760.2 535.4,760.2 536.4,760.2 537.4,760.2 538.4,760.2 539.4,760.2 540.4,760.2 541.4,760.2 542.4,760.2 543.4,760.2 544.4,760.2 545.4,760.2 546.4,760.2 547.4,760.2 548.4,760.2 549.4,760.2 550.4,760.2 551.4,760.2 552.4,760.2 553.4,760.2 554.4,760.2 555.4,760.2 556.4,760.2 557.4,760.2 558.4,760.2 559.4,760.2 560.4,760.2 561.4,760.2 562.4,760.2 563.4,760.2 564.4,760.2 565.4,760.2 566.4,760.2 567.4,760.2 568.4,760.2 569.4,760.2 570.4,760.2 571.4,760.2 572.4,760.2 573.4,760.2 574.4,760.2 575.4,760.2 576.4,760.2 577.4,760.2 578.4,760.2 579.4,760.2 580.4,760.2 581.4,760.2 582.4,760.2 583.4,760.2 584.4,760.2 585.4,760.2 586.4,760.2 587.4,760.2 588.4,760.2 589.4,760.2 590.4,760.2 591.4,760.2 592.4,760.2 593.4,760.2 594.4,760.2 595.4,760.2 596.4,760.2 597.4,760.2 598.4,760.2 599.4,760.2 600.4,760.2 601.4,760.2 602.4,760.2 603.4,760.2 604.4,760.2 605.4,760.2 606.4,760.2 607.4,760.2 608.4,760.2 609.4,760.2 610.4,760.2 611.4,760.2 612.4,760.2 613.4,760.2 614.4,760.2 615.4,760.2 616.4,760.2 617.4,760.2 618.4,760.2 619.4,760.2 620.4,760.2 621.4,760.2 622.4,760.2 623.4,760.2 624.4,760.2 625.4,760.2 626.4,760.2 627.4,760.2 628.4,760.2 629.4,760.2 630.4,760.2 631.4,760.2 632.4,760.2 633.4,760.2 634.4,760.2 635.4,760.2 636.4,760.2 637.4,760.2 638.4,760.2 639.4,760.2 640.4,760.2 641.4,760.2 642.4,760.2 643.4,760.2 644.4,760.2 645.4,760.2 646.4,760.2 647.4,760.2 648.4,760.2 649.4,760.2 650.4,760.2 651.4,760.2 652.4,760.2 653.4,760.2 654.4,760.2 655.4,760.2 656.4,760.2 657.4,760.2 658.4,760.2 659.4,760.2 660.4,760.2 661.4,760.2 662.4,760.2 663.4,760.2 664.4,760.2 665.4,760.2 666.4,760.2 667.4,760.2 668.4,760.2 669.4,760.2 670.4,760.2 671.4,760.2 672.4,760.2 673.4,760.2 674.4,760.2 675.4,760.2 676.4,760.2 677.4,760.2 678.4,760.2 679.4,760.2 680.4,760.2 681.4,760.2 682.4,760.2 683.4,760.1 684.4,760.1 685.4,760.0 686.4,759.9 687.4,759.8 688.4,759.7 689.4,759.6 690.4,759.5 691.4,759.4 692.4,759.2 693.4,759.0 694.4,758.8 695.4,758.6 696.4,758.4 697.4,758.2 698.4,757.7 699.4,756.9 700.4,756.0 701.4,754.9 702.4,753.8 703.4,752.2 704.4,750.4 705.4,748.3 706.4,745.8 707.4,742.6 708.4,738.9 709.4,734.6 710.4,729.4 711.4,723.5 712.4,716.9 713.4,709.5 714.4,701.6 715.4,693.5 716.4,685.1 717.4,676.4 718.4,667.3 719.4,657.8 720.4,648.2 721.4,638.7 722.4,629.0 723.4,617.5 724.4,604.6 725.4,595.1 726.4,587.0 727.4,579.3 728.4,571.4 729.4,563.7 730.4,556.5 731.4,549.7 732.4,543.4 733.4,538.4 734.4,534.1 735.4,530.6 736.4,528.5 737.4,527.1 738.4,526.1 739.4,525.6 740.4,526.0 741.4,527.3 742.4,529.0 743.4,531.3 744.4,535.1 745.4,539.9 746.4,544.8 747.4,550.5 748.4,556.8 749.4,563.6 750.4,571.1 751.4,579.0 752.4,587.0 753.4,595.3 754.4,603.3 755.4,610.9 756.4,618.3 757.4,625.4 758.4,632.6 759.4,639.8 760.4,646.8 761.4,653.7 762.4,660.4 763.4,667.0 764.4,673.4 765.4,679.4 766.4,684.9 767.4,690.2 768.4,695.1 769.4,699.6 770.4,703.9 771.4,707.9 772.4,710.8 773.4,712.8 774.4,714.4 775.4,715.2 776.4,715.0 777.4,714.0 778.4,712.5 779.4,710.9 780.4,708.6 781.4,706.6 782.4,705.9 783.4,706.2 784.4,706.8 785.4,707.5 786.4,708.1 787.4,708.6 788.4,709.2 789.4,709.8 790.4,710.4 791.0,710.8"/>
<polyline stroke="#006400" points="497.4,760.4 498.4,760.4 499.4,760.4 500.4,760.4 501.4,760.4 502.4,760.4 503.4,760.4 504.4,760.4 505.4,760.4 506.4,760.4 507.4,760.4 508.4,760.4 509.4,760.4 510.4,760.4 511.4,760.4 512.4,760.4 513.4,760.4 514.4,760.4 515.4,760.4 516.4,760.4 517.4,760.4 518.4,760.4 519.4,760.4 520.4,760.4 521.4,760.4 522.4,760.4 523.4,760.4 524.4,760.4 525.4,760.4 526.4,760.4 527.4,760.4 528.4,760.4 529.4,760.4 530.4,760.4 531.4,760.4 532.4,760.4 533.4,760.4 534.4,760.4 535.4,760.4 536.4,760.4 537.4,760.4 538.4,760.4 539.4,760.4 540.4,760.4 541.4,760.4 542.4,760.4 543.4,760.4 544.4,760.4 545.4,760.4 546.4,760.4 547.4,760.4 548.4,760.4 549.4,760.4 550.4,760.4 551.4,760.4 552.4,760.4 553.4,760.4 554.4,760.4 555.4,760.4 556.4,760.4 557.4,760.4 558.4,760.4 559.4,760.4 560.4,760.4 561.4,760.4 562.4,760.4 563.4,760.4 564.4,760.4 565.4,760.4 566.4,760.4 567.4,760.4 568.4,760.4 569.4,760.4 570.4,760.4 571.4,760.4 572.4,760.4 573.4,760.4 574.4,760.4 575.4,760.4 576.4,760.4 577.4,760.4 578.4,760.4 579.4,760.4 580.4,760.4 581.4,760.4 582.4,760.4 583.4,760.4 584.4,760.4 585.4,760.4 586.4,760.4 587.4,760.4 588.4,760.4 589.4,760.4 590.4,760.4 591.4,760.4 592.4,760.4 593.4,760.4 594.4,760.4 595.4,760.4 596.4,760.4 597.4,760.4 598.4,760.4 599.4,760.4 600.4,760.4 601.4,760.4 602.4,760.4 603.4,760.4 604.4,760.4 605.4,760.4 606.4,760.4 607.4,760.4 608.4,760.4 609.4,760.4 610.4,760.4 611.4,760.4 612.4,760.4 613.4,760.4 614.4,760.4 615.4,760.4 616.4,760.4 617.4,760.4 618.4,760.4 619.4,760.4 620.4,760.4 621.4,760.4 622.4,760.4 623.4,760.4 624.4,760.4 625.4,760.4 626.4,760.4 627.4,760.4 628.4,760.4 629.4,760.4 630.4,760.4 631.4,760.4 632.4,760.4 633.4,760.4 634.4,760.4 635.4,760.4 636.4,760.4 637.4,760.4 638.4,760.4 639.4,760.4 640.4,760.4 641.4,760.4 642.4,760.4 643.4,760.4 644.4,760.4 645.4,760.4 646.4,760.4 647.4,760.4 648.4,760.4 649.4,760.4 650.4,760.4 651.4,760.4 652.4,760.4 653.4,760.4 654.4,760.4 655.4,760.4 656.4,760.4 657.4,760.4 658.4,760.4 659.4,760.4 660.4,760.4 661.4,760.4 662.4,760.4 663.4,760.4 664.4,760.4 665.4,760.4 666.4,760.4 667.4,760.4 668.4,760.4 669.4,760.4 670.4,760.3 671.4,760.3 672.4,760.3 673.4,760.3 674.4,760.2 675.4,760.2 676.4,760.1 677.4,760.0 678.4,760.0 679.4,759.9 680.4,759.8 681.4,759.7 682.4,759.5 683.4,759.4 684.4,759.3 685.4,759.2 686.4,759.0 687.4,758.9 688.4,758.7 689.4,758.6 690.4,758.4 691.4,758.2 692.4,758.1 693.4,757.8 694.4,757.5 695.4,757.2 696.4,756.9 697.4,756.5 698.4,756.1 699.4,755.6 700.4,755.1 701.4,754.4 702.4,753.7 703.4,752.8 704.4,751.8 705.4,750.6 706.4,748.8 707.4,746.7 708.4,744.2 709.4,741.5 710.4,738.2 711.4,734.5 712.4,730.6 713.4,726.5 714.4,722.2 715.4,717.6 716.4,712.8 717.4,707.7 718.4,702.2 719.4,696.5 720.4,690.9 721.4,685.3 722.4,679.7 723.4,674.1 724.4,668.7 725.4,663.5 726.4,658.4 727.4,653.4 728.4,648.6 729.4,644.0 730.4,639.5 731.4,635.2 732.4,631.1 733.4,627.2 734.4,623.5 735.4,619.8 736.4,616.1 737.4,612.2 738.4,608.2 739.4,604.1 740.4,600.2 741.4,596.6 742.4,593.1 743.4,589.9 744.4,587.0 745.4,584.5 746.4,582.1 747.4,580.2 748.4,578.6 749.4,577.3 750.4,576.2 751.4,575.4 752.4,575.0 753.4,574.7 754.4,574.5 755.4,574.4 756.4,574.6 757.4,575.2 758.4,575.9 759.4,576.6 760.4,577.4 761.4,578.3 762.4,579.2 763.4,580.0 764.4,580.8 765.4,581.7 766.4,582.5 767.4,583.1 768.4,583.3 769.4,583.5 770.4,583.6 771.4,583.4 772.4,582.3 773.4,580.6 774.4,578.1 775.4,573.9 776.4,568.5 777.4,561.9 778.4,553.4 779.4,544.6 780.4,535.6 781.4,529.9 782.4,526.5 783.4,525.9 784.4,525.6 785.4,525.8 786.4,526.6 787.4,527.6 788.4,528.3 789.4,529.0 790.4,529.6 791.0,530.0"/>
<polyline stroke="#a0522d" points="497.4,760.4 498.4,760.4 499.4,760.4 500.4,760.4 501.4,760.4 502.4,760.4 503.4,760.4 504.4,760.4 505.4,760.4 506.4,760.4 507.4,760.4 508.4,760.4 509.4,760.4 510.4,760.4 511.4,760.4 512.4,760.4 513.4,760.4 514.4,760.4 515.4,760.4 516.4,760.4 517.4,760.4 518.4,760.4 519.4,760.4 520.4,760.4 521.4,760.4 522.4,760.4 523.4,760.4 524.4,760.4 525.4,760.4 526.4,760.4 527.4,760.4 528.4,760.4 529.4,760.4 530.4,760.4 531.4,760.4 532.4,760.4 533.4,760.4 534.4,760.4 535.4,760.4 536.4,760.4 537.4,760.4 538.4,760.4 539.4,760.4 540.4,760.4 541.4,760.4 542.4,760.4 543.4,760.4 544.4,760.4 545.4,760.4 546.4,760.4 547.4,760.4 548.4,760.4 549.4,760.4 550.4,760.4 551.4,760.4 552.4,760.4 553.4,760.4 554.4,760.4 555.4,760.4 556.4,760.4 557.4,760.4 558.4,760.4 559.4,760.4 560.4,760.4 561.4,760.4 562.4,760.4 563.4,760.4 564.4,760.4 565.4,760.4 566.4,760.4 567.4,760.4 568.4,760.4 569.4,760.4 570.4,760.4 571.4,760.4 572.4,760.4 573.4,760.4 574.4,760.4 575.4,760.4 576.4,760.4 577.4,760.4 578.4,760.4 579.4,760.4 580.4,760.4 581.4,760.4 582.4,760.4 583.4,760.4 584.4,760.4 585.4,760.4 586.4,760.4 587.4,760.4 588.4,760.4 589.4,760.4 590.4,760.4 591.4,760.4 592.4,760.4 593.4,760.4 594.4,760.4 595.4,760.4 596.4,760.4 597.4,760.4 598.4,760.4 599.4,760.4 600.4,760.4 601.4,760.4 602.4,760.4 603.4,760.4 604.4,760.4 605.4,760.4 606.4,760.4 607.4,760.4 608.4,760.4 609.4,760.4 610.4,760.4 611.4,760.4 612.4,760.4 613.4,760.4 614.4,760.4 615.4,760.4 616.4,760.4 617.4,760.4 618.4,760.4 619.4,760.4 620.4,760.4 621.4,760.4 622.4,760.4 623.4,760.4 624.4,760.4 625.4,760.4 626.4,760.4 627.4,760.4 628.4,760.4 629.4,760.4 630.4,760.4 631.4,760.4 632.4,760.4 633.4,760.4 634.4,760.4 635.4,760.4 636.4,760.4 637.4,760.4 638.4,760.4 639.4,760.4 640.4,760.4 641.4,760.4 642.4,760.4 643.4,760.4 644.4,760.4 645.4,760.4 646.4,760.4 647.4,760.4 648.4,760.4 649.4,760.4 650.4,760.4 651.4,760.4 652.4,760.4 653.4,760.4 654.4,760.4 655.4,760.4 656.4,760.3 657.4,760.3 658.4,760.3 659.4,760.3 660.4,760.3 661.4,760.3 662.4,760.3 663.4,760.3 664.4,760.3 665.4,760.3 666.4,760.3 667.4,760.3 668.4,760.3 669.4,760.3 670.4,760.3 671.4,760.3 672.4,760.3 673.4,760.3 674.4,760.3 675.4,760.3 676.4,760.3 677.4,760.3 678.4,760.3 679.4,760.3 680.4,760.3 681.4,760.3 682.4,760.3 683.4,760.3 684.4,760.3 685.4,760.3 686.4,760.3 687.4,760.3 688.4,760.3 689.4,760.3 690.4,760.3 691.4,760.3 692.4,760.3 693.4,760.3 694.4,760.3 695.4,760.3 696.4,760.3 697.4,760.3 698.4,760.3 699.4,760.3 700.4,760.3 701.4,760.3 702.4,760.2 703.4,760.2 704.4,760.1 705.4,760.0 706.4,759.9 707.4,759.8 708.4,759.6 709.4,759.5 710.4,759.3 711.4,759.1 712.4,759.0 713.4,758.7 714.4,758.4 715.4,757.9 716.4,757.3 717.4,756.6 718.4,755.9 719.4,755.2 720.4,754.3 721.4,753.2 722.4,752.0 723.4,750.7 724.4,749.3 725.4,747.7 726.4,745.9 727.4,743.9 728.4,741.7 729.4,739.4 730.4,737.1 731.4,734.6 732.4,732.0 733.4,729.1 734.4,726.1 735.4,722.8 736.4,719.2 737.4,715.2 738.4,711.0 739.4,706.5 740.4,701.8 741.4,696.7 742.4,691.5 743.4,686.2 744.4,680.7 745.4,675.1 746.4,669.5 747.4,664.1 748.4,658.5 749.4,653.0 750.4,647.7 751.4,642.8 752.4,638.1 753.4,633.6 754.4,629.3 755.4,625.1 756.4,620.9 757.4,616.9 758.4,613.0 759.4,609.3 760.4,605.7 761.4,602.2 762.4,599.0 763.4,596.1 764.4,593.6 765.4,591.3 766.4,589.1 767.4,587.0 768.4,585.0 769.4,583.2 770.4,581.2 771.4,578.8 772.4,575.8 773.4,572.3 774.4,568.5 775.4,564.1 776.4,559.2 777.4,554.1 778.4,549.1 779.4,543.7 780.4,538.7 781.4,534.9 782.4,531.8 783.4,529.5 784.4,528.2 785.4,527.4 786.4,526.9 787.4,526.5 788.4,526.2 789.4,526.0 790.4,525.9 791.0,525.9"/>
</g>
<line x1="661.30" y1="760.00" x2="661.30" y2="526.30" stroke="#ff0000" stroke-width="1.55" stroke-linecap="round" stroke-dasharray="7.1 8.97"/>
<line x1="675.60" y1="760.00" x2="675.60" y2="526.30" stroke="#ff0000" stroke-width="1.55" stroke-linecap="round" stroke-dasharray="7.1 8.97"/>
<line x1="697.10" y1="760.00" x2="697.10" y2="526.30" stroke="#ff0000" stroke-width="1.55" stroke-linecap="round" stroke-dasharray="7.1 8.97"/>
<line x1="716.00" y1="760.00" x2="716.00" y2="526.30" stroke="#ff0000" stroke-width="1.55" stroke-linecap="round" stroke-dasharray="7.1 8.97"/>
<line x1="754.80" y1="760.00" x2="754.80" y2="526.30" stroke="#ff0000" stroke-width="1.55" stroke-linecap="round" stroke-dasharray="7.1 8.97"/>
<g transform="translate(667.10 522.70) rotate(-90)"><text x="0.00" y="0.00" font-size="12.00" fill="#ff0000" font-weight="normal" text-anchor="start" stroke="#ff0000" stroke-width="0.25">3</text><text x="13.20" y="0.00" font-size="10.50" fill="#ff0000" font-weight="normal" text-anchor="start" stroke="#ff0000" stroke-width="0.25">x</text><text x="26.40" y="0.00" font-size="12.00" fill="#ff0000" font-weight="normal" text-anchor="start" letter-spacing="0.60" stroke="#ff0000" stroke-width="0.25">10</text><text x="40.60" y="-4.60" font-size="8.20" fill="#ff0000" font-weight="bold" text-anchor="start" letter-spacing="0.30">−5</text></g>
<g transform="translate(681.40 508.80) rotate(-90)"><text x="0.00" y="0.00" font-size="12.00" fill="#ff0000" font-weight="normal" text-anchor="start" letter-spacing="0.60" stroke="#ff0000" stroke-width="0.25">10</text><text x="14.20" y="-4.60" font-size="8.20" fill="#ff0000" font-weight="bold" text-anchor="start" letter-spacing="0.30">−4</text></g>
<g transform="translate(702.90 508.80) rotate(-90)"><text x="0.00" y="0.00" font-size="12.00" fill="#ff0000" font-weight="normal" text-anchor="start" letter-spacing="0.60" stroke="#ff0000" stroke-width="0.25">10</text><text x="14.20" y="-4.60" font-size="8.20" fill="#ff0000" font-weight="bold" text-anchor="start" letter-spacing="0.30">−3</text></g>
<g transform="translate(721.80 508.80) rotate(-90)"><text x="0.00" y="0.00" font-size="12.00" fill="#ff0000" font-weight="normal" text-anchor="start" letter-spacing="0.60" stroke="#ff0000" stroke-width="0.25">10</text><text x="14.20" y="-4.60" font-size="8.20" fill="#ff0000" font-weight="bold" text-anchor="start" letter-spacing="0.30">−2</text></g>
<g transform="translate(761.10 506.90) rotate(-90)"><text x="0.00" y="0.00" font-size="12.00" fill="#ff0000" font-weight="normal" text-anchor="start" letter-spacing="0.50" stroke="#ff0000" stroke-width="0.25">0.1</text></g>
<text x="509.20" y="502.00" font-size="11.00" fill="#ff0000" font-weight="normal" text-anchor="start" stroke="#ff0000" stroke-width="0.35">f</text>
<text x="513.10" y="502.50" font-size="13.50" fill="#ff0000" font-weight="normal" text-anchor="start" stroke="#ff0000" stroke-width="0.35">(</text>
<text x="518.00" y="502.00" font-size="10.80" fill="#ff0000" font-weight="normal" text-anchor="start" stroke="#ff0000" stroke-width="0.35">H</text>
<text x="526.50" y="505.70" font-size="8.20" fill="#ff0000" font-weight="bold" text-anchor="start" stroke="#ff0000" stroke-width="0.3">2</text>
<text x="532.00" y="502.50" font-size="13.50" fill="#ff0000" font-weight="normal" text-anchor="start" stroke="#ff0000" stroke-width="0.35">)</text>
<line x1="543.90" y1="497.20" x2="551.30" y2="497.20" stroke="#ff0000" stroke-width="1.40"/>
<line x1="543.90" y1="500.20" x2="551.30" y2="500.20" stroke="#ff0000" stroke-width="1.40"/>
<text x="508.60" y="466.80" font-size="16.40" fill="#0000ff" font-weight="normal" text-anchor="start" letter-spacing="0.50" stroke="#0000ff" stroke-width="0.75" stroke-linejoin="round">ArH</text>
<text x="539.30" y="459.20" font-size="12.50" fill="#0000ff" font-weight="bold" text-anchor="start" stroke="#0000ff" stroke-width="0.5">+</text>
<text x="564.80" y="466.80" font-size="16.40" fill="#ff00ff" font-weight="normal" text-anchor="start" letter-spacing="0.70" stroke="#ff00ff" stroke-width="0.75" stroke-linejoin="round">HCl</text>
<text x="594.40" y="459.20" font-size="12.50" fill="#ff00ff" font-weight="bold" text-anchor="start" stroke="#ff00ff" stroke-width="0.5">+</text>
<text x="621.00" y="466.80" font-size="16.40" fill="#000" font-weight="normal" text-anchor="start" letter-spacing="0.50" stroke="#000" stroke-width="0.75" stroke-linejoin="round">H</text>
<text x="633.20" y="471.70" font-size="12.00" fill="#000" font-weight="bold" text-anchor="start" stroke="#000" stroke-width="0.3">2</text>
<text x="641.10" y="466.80" font-size="16.40" fill="#000" font-weight="normal" text-anchor="start" letter-spacing="0.20" stroke="#000" stroke-width="0.75" stroke-linejoin="round">Cl</text>
<text x="657.80" y="459.20" font-size="12.50" fill="#000" font-weight="bold" text-anchor="start" stroke="#000" stroke-width="0.5">+</text>
<text x="677.10" y="466.80" font-size="16.40" fill="#006400" font-weight="normal" text-anchor="start" letter-spacing="0.30" stroke="#006400" stroke-width="0.75" stroke-linejoin="round">OH</text>
<text x="703.20" y="459.20" font-size="12.50" fill="#006400" font-weight="bold" text-anchor="start" stroke="#006400" stroke-width="0.5">+</text>
<text x="734.00" y="466.80" font-size="16.40" fill="#a0522d" font-weight="normal" text-anchor="start" letter-spacing="0.50" stroke="#a0522d" stroke-width="0.75" stroke-linejoin="round">H</text>
<text x="746.00" y="471.70" font-size="12.00" fill="#a0522d" font-weight="bold" text-anchor="start" stroke="#a0522d" stroke-width="0.3">2</text>
<text x="752.80" y="466.80" font-size="16.40" fill="#a0522d" font-weight="normal" text-anchor="start" letter-spacing="0.50" stroke="#a0522d" stroke-width="0.75" stroke-linejoin="round">O</text>
<text x="767.10" y="459.20" font-size="12.50" fill="#a0522d" font-weight="bold" text-anchor="start" stroke="#a0522d" stroke-width="0.5">+</text>
<text x="493.10" y="428.90" font-size="18.80" fill="#000" font-weight="normal" text-anchor="start" font-style="italic">χ</text>
<text x="504.20" y="432.50" font-size="10.20" fill="#000" font-weight="normal" text-anchor="start" stroke="#000" stroke-width="0.22">UV</text>
<line x1="520.40" y1="432.50" x2="530.90" y2="413.60" stroke="#000" stroke-width="1.30"/>
<text x="532.10" y="428.15" font-size="17.30" fill="#000" font-weight="normal" text-anchor="start">n</text>
<text x="543.00" y="433.10" font-size="11.20" fill="#000" font-weight="normal" text-anchor="start" textLength="15.0" lengthAdjust="spacingAndGlyphs" stroke="#000" stroke-width="0.22">50</text>
<line x1="569.10" y1="420.85" x2="580.30" y2="420.85" stroke="#000" stroke-width="1.30"/>
<line x1="569.10" y1="425.15" x2="580.30" y2="425.15" stroke="#000" stroke-width="1.30"/>
<text x="592.10" y="428.15" font-size="18.00" fill="#000" font-weight="normal" text-anchor="start" textLength="12.0" lengthAdjust="spacingAndGlyphs">5</text>
<text x="603.80" y="428.15" font-size="17.00" fill="#000" font-weight="normal" text-anchor="start">,</text>
<text x="637.70" y="429.15" font-size="19.80" fill="#000" font-weight="normal" text-anchor="start">ζ</text>
<text x="648.50" y="432.10" font-size="10.40" fill="#000" font-weight="normal" text-anchor="start" stroke="#000" stroke-width="0.22">p</text>
<text x="655.20" y="428.75" font-size="20.50" fill="#000" font-weight="normal" text-anchor="start">(</text>
<text x="662.40" y="428.15" font-size="17.00" fill="#000" font-weight="normal" text-anchor="start" textLength="13.5" lengthAdjust="spacingAndGlyphs">H</text>
<text x="676.60" y="428.75" font-size="20.50" fill="#000" font-weight="normal" text-anchor="start">)</text>
<text x="685.30" y="433.00" font-size="11.20" fill="#000" font-weight="normal" text-anchor="start" textLength="8.2" lengthAdjust="spacingAndGlyphs" stroke="#000" stroke-width="0.22">−</text>
<text x="695.40" y="433.00" font-size="11.20" fill="#000" font-weight="normal" text-anchor="start" stroke="#000" stroke-width="0.22">1</text>
<text x="701.10" y="433.00" font-size="11.20" fill="#000" font-weight="normal" text-anchor="start" textLength="7.6" lengthAdjust="spacingAndGlyphs" stroke="#000" stroke-width="0.22">6</text>
<line x1="708.00" y1="433.10" x2="719.00" y2="413.20" stroke="#000" stroke-width="1.30"/>
<text x="720.90" y="428.15" font-size="17.30" fill="#000" font-weight="normal" text-anchor="start">n</text>
<text x="731.70" y="433.10" font-size="11.20" fill="#000" font-weight="normal" text-anchor="start" textLength="15.0" lengthAdjust="spacingAndGlyphs" stroke="#000" stroke-width="0.22">50</text>
<line x1="757.60" y1="420.85" x2="768.60" y2="420.85" stroke="#000" stroke-width="1.30"/>
<line x1="757.60" y1="425.15" x2="768.60" y2="425.15" stroke="#000" stroke-width="1.30"/>
<text x="771.40" y="428.15" font-size="18.00" fill="#000" font-weight="normal" text-anchor="start" textLength="21.8" lengthAdjust="spacingAndGlyphs">20</text>
<text x="509.56" y="782.70" font-size="16.30" fill="#000" font-weight="normal" text-anchor="middle" letter-spacing="1.20">−5</text>
<text x="565.83" y="782.70" font-size="16.30" fill="#000" font-weight="normal" text-anchor="middle" letter-spacing="1.20">−4</text>
<text x="622.11" y="782.70" font-size="16.30" fill="#000" font-weight="normal" text-anchor="middle" letter-spacing="1.20">−3</text>
<text x="678.39" y="782.70" font-size="16.30" fill="#000" font-weight="normal" text-anchor="middle" letter-spacing="1.20">−2</text>
<text x="734.67" y="782.70" font-size="16.30" fill="#000" font-weight="normal" text-anchor="middle" letter-spacing="1.20">−1</text>
<text x="790.95" y="782.70" font-size="16.30" fill="#000" font-weight="normal" text-anchor="middle" letter-spacing="1.20">0</text>
<text x="493.40" y="761.90" font-size="16.30" fill="#000" font-weight="normal" text-anchor="end" letter-spacing="0.45">0.0</text>
<text x="493.40" y="719.64" font-size="16.30" fill="#000" font-weight="normal" text-anchor="end" letter-spacing="0.45">0.2</text>
<text x="493.40" y="672.68" font-size="16.30" fill="#000" font-weight="normal" text-anchor="end" letter-spacing="0.45">0.4</text>
<text x="493.40" y="625.72" font-size="16.30" fill="#000" font-weight="normal" text-anchor="end" letter-spacing="0.45">0.6</text>
<text x="493.40" y="578.76" font-size="16.30" fill="#000" font-weight="normal" text-anchor="end" letter-spacing="0.45">0.8</text>
<text x="493.40" y="531.80" font-size="16.30" fill="#000" font-weight="normal" text-anchor="end" letter-spacing="0.45">1.0</text>
<text x="493.40" y="484.85" font-size="16.30" fill="#000" font-weight="normal" text-anchor="end" letter-spacing="0.45">1.2</text>
<text x="616.70" y="801.10" font-size="15.20" fill="#000" font-weight="normal" text-anchor="start" letter-spacing="0.60">log</text>
<text x="638.80" y="804.30" font-size="10.20" fill="#000" font-weight="normal" text-anchor="start" stroke="#000" stroke-width="0.22">10</text>
<text x="656.90" y="801.10" font-size="15.20" fill="#000" font-weight="normal" text-anchor="start">A</text>
<text x="665.90" y="804.30" font-size="9.60" fill="#000" font-weight="normal" text-anchor="start" stroke="#000" stroke-width="0.22">V</text>
<g transform="translate(457.40 656.50) rotate(-90)"><text x="0.00" y="0.00" font-size="16.60" fill="#000" font-weight="normal" text-anchor="start" textLength="30.3" lengthAdjust="spacingAndGlyphs">n(X)</text><line x1="31.40" y1="3.20" x2="47.20" y2="-12.80" stroke="#000" stroke-width="1.30"/><text x="48.20" y="0.00" font-size="16.60" fill="#000" font-weight="normal" text-anchor="start" textLength="67.6" lengthAdjust="spacingAndGlyphs">max[n(X)]</text></g>
</g>
</svg></body></html>
